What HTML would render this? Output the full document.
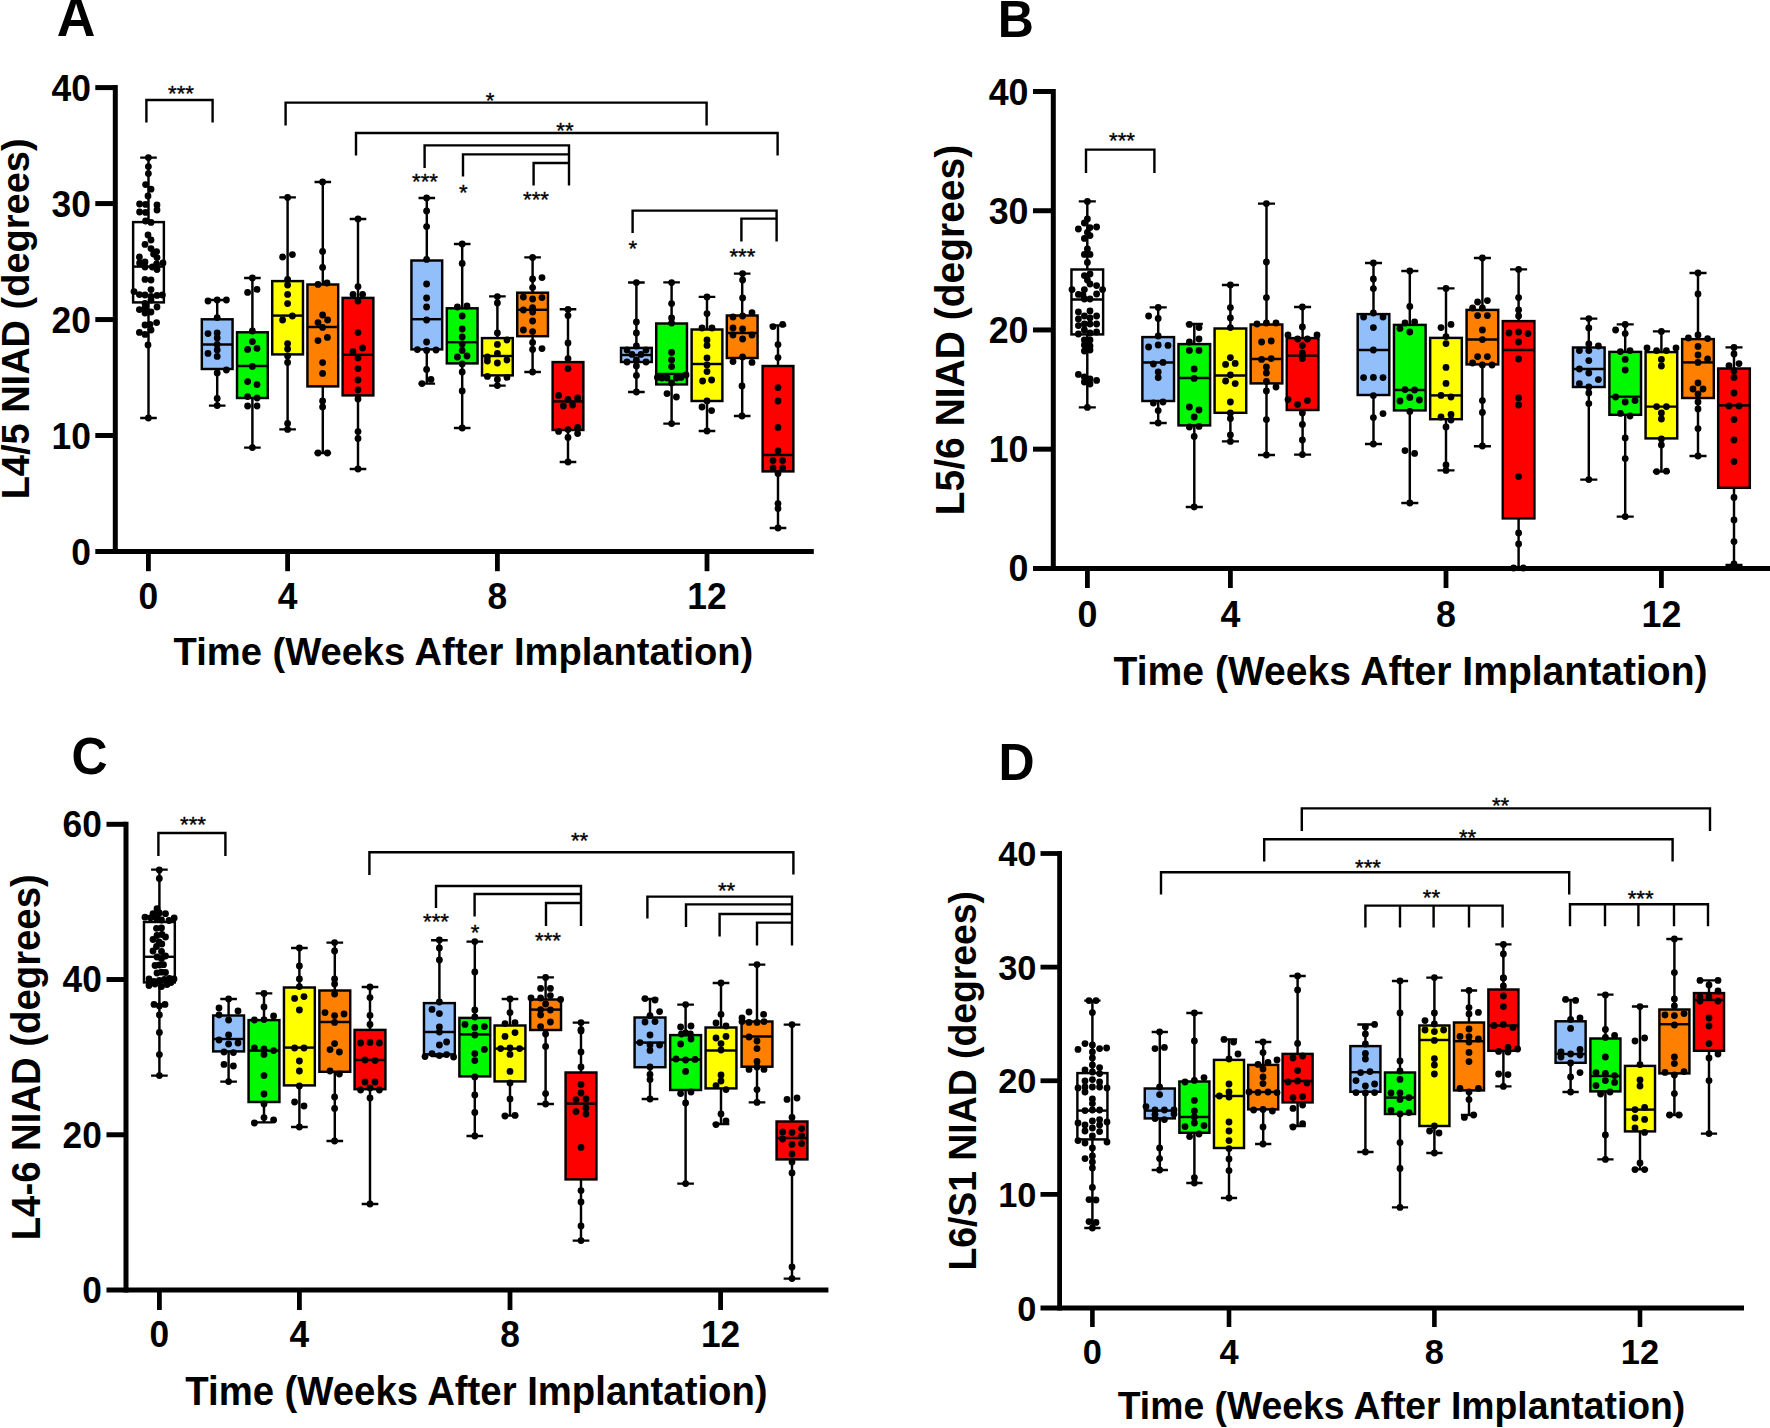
<!DOCTYPE html>
<html lang="en"><head><meta charset="utf-8"><title>NIAD box plots</title>
<style>html,body{margin:0;padding:0;background:#fff}svg{display:block}</style></head><body>
<svg width="1770" height="1428" viewBox="0 0 1770 1428">
<rect width="1770" height="1428" fill="#fff"/>
<g id="panelA">
<text transform="translate(56.7,35.6) scale(1,1.04)" text-anchor="start" font-family="'Liberation Sans', Arial, sans-serif" font-weight="bold" font-size="53.5">A</text>
<g stroke="#000" fill="none" stroke-linecap="butt">
<line x1="115.3" y1="85" x2="115.3" y2="554" stroke-width="5.0"/>
<line x1="95.3" y1="551.5" x2="813.8" y2="551.5" stroke-width="5.0"/>
<line x1="95.3" y1="87.6" x2="115.3" y2="87.6" stroke-width="5.0"/>
<line x1="95.3" y1="203.57" x2="115.3" y2="203.57" stroke-width="5.0"/>
<line x1="95.3" y1="319.55" x2="115.3" y2="319.55" stroke-width="5.0"/>
<line x1="95.3" y1="435.52" x2="115.3" y2="435.52" stroke-width="5.0"/>
<line x1="148.4" y1="551.5" x2="148.4" y2="571.2" stroke-width="4.8"/>
<line x1="287.6" y1="551.5" x2="287.6" y2="571.2" stroke-width="4.8"/>
<line x1="497.4" y1="551.5" x2="497.4" y2="571.2" stroke-width="4.8"/>
<line x1="707" y1="551.5" x2="707" y2="571.2" stroke-width="4.8"/>
</g>
<text transform="translate(91,101.19) scale(1,1.04)" text-anchor="end" font-family="'Liberation Sans', Arial, sans-serif" font-weight="bold" font-size="35.4">40</text>
<text transform="translate(91,217.16) scale(1,1.04)" text-anchor="end" font-family="'Liberation Sans', Arial, sans-serif" font-weight="bold" font-size="35.4">30</text>
<text transform="translate(91,333.14) scale(1,1.04)" text-anchor="end" font-family="'Liberation Sans', Arial, sans-serif" font-weight="bold" font-size="35.4">20</text>
<text transform="translate(91,449.11) scale(1,1.04)" text-anchor="end" font-family="'Liberation Sans', Arial, sans-serif" font-weight="bold" font-size="35.4">10</text>
<text transform="translate(91,565.09) scale(1,1.04)" text-anchor="end" font-family="'Liberation Sans', Arial, sans-serif" font-weight="bold" font-size="35.4">0</text>
<text transform="translate(148.4,608.6) scale(1,1.04)" text-anchor="middle" font-family="'Liberation Sans', Arial, sans-serif" font-weight="bold" font-size="35.4">0</text>
<text transform="translate(287.6,608.6) scale(1,1.04)" text-anchor="middle" font-family="'Liberation Sans', Arial, sans-serif" font-weight="bold" font-size="35.4">4</text>
<text transform="translate(497.4,608.6) scale(1,1.04)" text-anchor="middle" font-family="'Liberation Sans', Arial, sans-serif" font-weight="bold" font-size="35.4">8</text>
<text transform="translate(707,608.6) scale(1,1.04)" text-anchor="middle" font-family="'Liberation Sans', Arial, sans-serif" font-weight="bold" font-size="35.4">12</text>
<text transform="translate(173.6,665) scale(1,1.04)" text-anchor="start" font-family="'Liberation Sans', Arial, sans-serif" font-weight="bold" font-size="38.13">Time (Weeks After Implantation)</text>
<text transform="translate(28.9,318.9) rotate(-90) scale(1,1.04)" text-anchor="middle" font-family="'Liberation Sans', Arial, sans-serif" font-weight="bold" font-size="38.0">L4/5 NIAD (degrees)</text>
<path d="M148.5 157.6V418M217.2 300V405.6M252.4 278V447.6M287.6 197.4V429.4M322.8 182V453M358 219V469M426.8 198V383.6M462.2 244V428M497.4 296.4V385.6M532.6 257.4V372M568 309.2V462M636.4 282.5V392M671.6 282.4V423.6M707 296.8V431M742.2 273.6V416M778 325.4V528" stroke="#000" stroke-width="2.45" fill="none"/>
<path d="M140.2 157.6H156.8M140.2 418H156.8M208.9 300H225.5M208.9 405.6H225.5M244.1 278H260.7M244.1 447.6H260.7M279.3 197.4H295.9M279.3 429.4H295.9M314.5 182H331.1M314.5 453H331.1M349.7 219H366.3M349.7 469H366.3M418.5 198H435.1M418.5 383.6H435.1M453.9 244H470.5M453.9 428H470.5M489.1 296.4H505.7M489.1 385.6H505.7M524.3 257.4H540.9M524.3 372H540.9M559.7 309.2H576.3M559.7 462H576.3M628.1 282.5H644.7M628.1 392H644.7M663.3 282.4H679.9M663.3 423.6H679.9M698.7 296.8H715.3M698.7 431H715.3M733.9 273.6H750.5M733.9 416H750.5M769.7 325.4H786.3M769.7 528H786.3" stroke="#000" stroke-width="2.35" fill="none"/>
<g stroke="#000" stroke-width="2.45" fill="none"><rect x="133.12" y="222.1" width="30.75" height="80.3" fill="#ffffff"/><path d="M133.12 266.6H163.88"/><rect x="201.82" y="319.3" width="30.75" height="49.7" fill="#92bffa"/><path d="M201.82 344.5H232.57"/><rect x="237.03" y="332.3" width="30.75" height="65.7" fill="#00f800"/><path d="M237.03 366H267.78"/><rect x="272.23" y="281.1" width="30.75" height="73.3" fill="#ffff00"/><path d="M272.23 315.6H302.98"/><rect x="307.43" y="284.5" width="30.75" height="101.9" fill="#ff8000"/><path d="M307.43 327H338.18"/><rect x="342.62" y="297.9" width="30.75" height="97.5" fill="#fd0000"/><path d="M342.62 354.8H373.38"/><rect x="411.43" y="260.5" width="30.75" height="88.9" fill="#92bffa"/><path d="M411.43 319.2H442.18"/><rect x="446.82" y="308.3" width="30.75" height="55.1" fill="#00f800"/><path d="M446.82 342.2H477.57"/><rect x="482.02" y="338.1" width="30.75" height="37.3" fill="#ffff00"/><path d="M482.02 356H512.77"/><rect x="517.23" y="292.7" width="30.75" height="43.5" fill="#ff8000"/><path d="M517.23 309.8H547.98"/><rect x="552.62" y="362.1" width="30.75" height="67.9" fill="#fd0000"/><path d="M552.62 401.4H583.38"/><rect x="621.02" y="347.9" width="30.75" height="14.1" fill="#92bffa"/><path d="M621.02 355H651.77"/><rect x="656.23" y="323.5" width="30.75" height="60.9" fill="#00f800"/><path d="M656.23 374H686.98"/><rect x="691.62" y="329.5" width="30.75" height="71.5" fill="#ffff00"/><path d="M691.62 364H722.38"/><rect x="726.83" y="315.5" width="30.75" height="42.5" fill="#ff8000"/><path d="M726.83 333H757.58"/><rect x="762.62" y="366" width="30.75" height="105.4" fill="#fd0000"/><path d="M762.62 455H793.38"/></g>
<g fill="#000"><circle cx="148.4" cy="157.6" r="3.4"/><circle cx="148.4" cy="166.6" r="3.4"/><circle cx="148.4" cy="173.6" r="3.4"/><circle cx="145.6" cy="184.6" r="3.4"/><circle cx="151" cy="189.2" r="3.4"/><circle cx="148" cy="196" r="3.4"/><circle cx="139.6" cy="204" r="3.4"/><circle cx="145.6" cy="204.4" r="3.4"/><circle cx="157" cy="205" r="3.4"/><circle cx="157" cy="210" r="3.4"/><circle cx="139.6" cy="212" r="3.4"/><circle cx="145.6" cy="212.4" r="3.4"/><circle cx="145.6" cy="221" r="3.4"/><circle cx="151" cy="222.4" r="3.4"/><circle cx="148" cy="235" r="3.4"/><circle cx="151" cy="240" r="3.4"/><circle cx="145" cy="244.4" r="3.4"/><circle cx="151" cy="248.6" r="3.4"/><circle cx="156.6" cy="251.6" r="3.4"/><circle cx="139.4" cy="257" r="3.4"/><circle cx="153.6" cy="254" r="3.4"/><circle cx="157" cy="257.6" r="3.4"/><circle cx="145" cy="262" r="3.4"/><circle cx="139.6" cy="263" r="3.4"/><circle cx="163" cy="263" r="3.4"/><circle cx="156.6" cy="264" r="3.4"/><circle cx="145" cy="267" r="3.4"/><circle cx="152.4" cy="267" r="3.4"/><circle cx="157" cy="269.6" r="3.4"/><circle cx="145" cy="279.4" r="3.4"/><circle cx="151" cy="280" r="3.4"/><circle cx="151" cy="289.6" r="3.4"/><circle cx="134" cy="291.6" r="3.4"/><circle cx="139.4" cy="294.6" r="3.4"/><circle cx="145" cy="295" r="3.4"/><circle cx="157" cy="295.4" r="3.4"/><circle cx="162.4" cy="295" r="3.4"/><circle cx="151" cy="296.4" r="3.4"/><circle cx="145" cy="303.4" r="3.4"/><circle cx="151" cy="300" r="3.4"/><circle cx="157" cy="307" r="3.4"/><circle cx="145" cy="308" r="3.4"/><circle cx="139.4" cy="309.6" r="3.4"/><circle cx="145" cy="313" r="3.4"/><circle cx="151" cy="312" r="3.4"/><circle cx="156.6" cy="322.6" r="3.4"/><circle cx="145" cy="325" r="3.4"/><circle cx="150" cy="324.4" r="3.4"/><circle cx="151" cy="330" r="3.4"/><circle cx="139.4" cy="332.4" r="3.4"/><circle cx="145" cy="334.4" r="3.4"/><circle cx="148" cy="345" r="3.4"/><circle cx="148.4" cy="418" r="3.4"/><circle cx="208" cy="301" r="3.4"/><circle cx="226.4" cy="300" r="3.4"/><circle cx="217.2" cy="300" r="3.4"/><circle cx="217.2" cy="317.6" r="3.4"/><circle cx="208" cy="333.6" r="3.4"/><circle cx="217.2" cy="333" r="3.4"/><circle cx="217.2" cy="338" r="3.4"/><circle cx="217.2" cy="344.4" r="3.4"/><circle cx="217.2" cy="350" r="3.4"/><circle cx="208" cy="353.4" r="3.4"/><circle cx="217.2" cy="356.4" r="3.4"/><circle cx="226.4" cy="370" r="3.4"/><circle cx="217.2" cy="373" r="3.4"/><circle cx="217.2" cy="398.4" r="3.4"/><circle cx="217.2" cy="405.6" r="3.4"/><circle cx="252.4" cy="278" r="3.4"/><circle cx="247.6" cy="292.4" r="3.4"/><circle cx="257" cy="289.4" r="3.4"/><circle cx="252.4" cy="331" r="3.4"/><circle cx="252.4" cy="341.6" r="3.4"/><circle cx="247.6" cy="349.4" r="3.4"/><circle cx="257" cy="348.4" r="3.4"/><circle cx="252.4" cy="366.4" r="3.4"/><circle cx="247.6" cy="381.6" r="3.4"/><circle cx="257" cy="384.6" r="3.4"/><circle cx="247.6" cy="396.6" r="3.4"/><circle cx="257" cy="398" r="3.4"/><circle cx="247.6" cy="406" r="3.4"/><circle cx="257" cy="406" r="3.4"/><circle cx="252.4" cy="447.6" r="3.4"/><circle cx="287.6" cy="197.4" r="3.4"/><circle cx="282.6" cy="257" r="3.4"/><circle cx="292.4" cy="254.6" r="3.4"/><circle cx="287.6" cy="279.4" r="3.4"/><circle cx="287.6" cy="285" r="3.4"/><circle cx="287.6" cy="294.4" r="3.4"/><circle cx="287.6" cy="303.6" r="3.4"/><circle cx="292.4" cy="316" r="3.4"/><circle cx="282.6" cy="320" r="3.4"/><circle cx="287.6" cy="343.6" r="3.4"/><circle cx="287.6" cy="349" r="3.4"/><circle cx="287.6" cy="356" r="3.4"/><circle cx="287.6" cy="362.4" r="3.4"/><circle cx="287.6" cy="423.4" r="3.4"/><circle cx="287.6" cy="429.4" r="3.4"/><circle cx="322.6" cy="182" r="3.4"/><circle cx="322.6" cy="251.4" r="3.4"/><circle cx="322.6" cy="267.4" r="3.4"/><circle cx="318" cy="284.4" r="3.4"/><circle cx="327" cy="283" r="3.4"/><circle cx="322.6" cy="315" r="3.4"/><circle cx="327.6" cy="320" r="3.4"/><circle cx="318" cy="322.6" r="3.4"/><circle cx="322.6" cy="327.4" r="3.4"/><circle cx="327.4" cy="337.4" r="3.4"/><circle cx="318" cy="340.6" r="3.4"/><circle cx="322.6" cy="362.6" r="3.4"/><circle cx="322.6" cy="373.4" r="3.4"/><circle cx="322.6" cy="401" r="3.4"/><circle cx="322.6" cy="407" r="3.4"/><circle cx="318" cy="453" r="3.4"/><circle cx="327.4" cy="453" r="3.4"/><circle cx="358" cy="219" r="3.4"/><circle cx="358" cy="286.6" r="3.4"/><circle cx="353" cy="294.4" r="3.4"/><circle cx="362.6" cy="294.4" r="3.4"/><circle cx="358" cy="301" r="3.4"/><circle cx="358" cy="332.6" r="3.4"/><circle cx="362.6" cy="348" r="3.4"/><circle cx="353" cy="351.6" r="3.4"/><circle cx="358" cy="358" r="3.4"/><circle cx="358" cy="368.6" r="3.4"/><circle cx="358" cy="380" r="3.4"/><circle cx="358" cy="390" r="3.4"/><circle cx="358" cy="399" r="3.4"/><circle cx="358" cy="431.6" r="3.4"/><circle cx="358" cy="438.4" r="3.4"/><circle cx="358" cy="469" r="3.4"/><circle cx="426.6" cy="198" r="3.4"/><circle cx="426.6" cy="211" r="3.4"/><circle cx="426.6" cy="226.6" r="3.4"/><circle cx="426.6" cy="259.4" r="3.4"/><circle cx="426.6" cy="284" r="3.4"/><circle cx="426.6" cy="298" r="3.4"/><circle cx="426.6" cy="307" r="3.4"/><circle cx="426.6" cy="320" r="3.4"/><circle cx="426.6" cy="342" r="3.4"/><circle cx="417.4" cy="349.6" r="3.4"/><circle cx="426.6" cy="350.4" r="3.4"/><circle cx="436" cy="350" r="3.4"/><circle cx="426.6" cy="369.4" r="3.4"/><circle cx="422" cy="383.6" r="3.4"/><circle cx="431" cy="379.4" r="3.4"/><circle cx="462.2" cy="244" r="3.4"/><circle cx="462.2" cy="263.4" r="3.4"/><circle cx="457.4" cy="307" r="3.4"/><circle cx="467" cy="306" r="3.4"/><circle cx="462.2" cy="316" r="3.4"/><circle cx="462.2" cy="329" r="3.4"/><circle cx="462.2" cy="337" r="3.4"/><circle cx="462.2" cy="344" r="3.4"/><circle cx="462.2" cy="350.4" r="3.4"/><circle cx="457.4" cy="357" r="3.4"/><circle cx="467" cy="356" r="3.4"/><circle cx="462.2" cy="364" r="3.4"/><circle cx="462.2" cy="372" r="3.4"/><circle cx="462.2" cy="391" r="3.4"/><circle cx="462.2" cy="428" r="3.4"/><circle cx="497.4" cy="296.6" r="3.4"/><circle cx="497.4" cy="303" r="3.4"/><circle cx="497.4" cy="333" r="3.4"/><circle cx="507" cy="340" r="3.4"/><circle cx="497.4" cy="344.4" r="3.4"/><circle cx="497.4" cy="353.4" r="3.4"/><circle cx="487.4" cy="357" r="3.4"/><circle cx="487.4" cy="361" r="3.4"/><circle cx="507" cy="360" r="3.4"/><circle cx="497.4" cy="363" r="3.4"/><circle cx="487.4" cy="376.4" r="3.4"/><circle cx="507" cy="377.4" r="3.4"/><circle cx="497.4" cy="379.4" r="3.4"/><circle cx="497.4" cy="385.6" r="3.4"/><circle cx="532.6" cy="257.4" r="3.4"/><circle cx="532.6" cy="279" r="3.4"/><circle cx="542" cy="277.6" r="3.4"/><circle cx="532.6" cy="287.6" r="3.4"/><circle cx="523.4" cy="297" r="3.4"/><circle cx="532.6" cy="299" r="3.4"/><circle cx="542" cy="297.6" r="3.4"/><circle cx="523.4" cy="310" r="3.4"/><circle cx="532.6" cy="307.6" r="3.4"/><circle cx="532.6" cy="312" r="3.4"/><circle cx="532.6" cy="321" r="3.4"/><circle cx="523.4" cy="330" r="3.4"/><circle cx="532.6" cy="331.6" r="3.4"/><circle cx="532.6" cy="342.4" r="3.4"/><circle cx="532.6" cy="349.4" r="3.4"/><circle cx="542" cy="348.6" r="3.4"/><circle cx="532.6" cy="372" r="3.4"/><circle cx="568" cy="309.4" r="3.4"/><circle cx="568" cy="315.6" r="3.4"/><circle cx="568" cy="343" r="3.4"/><circle cx="568" cy="358.6" r="3.4"/><circle cx="568" cy="368.6" r="3.4"/><circle cx="558.6" cy="395.4" r="3.4"/><circle cx="568" cy="399.4" r="3.4"/><circle cx="577.6" cy="398" r="3.4"/><circle cx="563.4" cy="406" r="3.4"/><circle cx="572.6" cy="405" r="3.4"/><circle cx="577.6" cy="427.4" r="3.4"/><circle cx="568" cy="429.6" r="3.4"/><circle cx="558.6" cy="431.4" r="3.4"/><circle cx="577.6" cy="433.6" r="3.4"/><circle cx="568" cy="437.4" r="3.4"/><circle cx="568" cy="462" r="3.4"/><circle cx="636.4" cy="282.6" r="3.4"/><circle cx="636.4" cy="322" r="3.4"/><circle cx="636.4" cy="333" r="3.4"/><circle cx="636.4" cy="346" r="3.4"/><circle cx="627" cy="350" r="3.4"/><circle cx="646" cy="350" r="3.4"/><circle cx="632" cy="354.4" r="3.4"/><circle cx="641" cy="354.4" r="3.4"/><circle cx="627" cy="362" r="3.4"/><circle cx="646" cy="362" r="3.4"/><circle cx="636.4" cy="360" r="3.4"/><circle cx="636.4" cy="366" r="3.4"/><circle cx="636.4" cy="375.4" r="3.4"/><circle cx="636.4" cy="392" r="3.4"/><circle cx="671.6" cy="282.6" r="3.4"/><circle cx="671.6" cy="303.6" r="3.4"/><circle cx="671.6" cy="318" r="3.4"/><circle cx="671.6" cy="323" r="3.4"/><circle cx="671.6" cy="352.4" r="3.4"/><circle cx="671.6" cy="360" r="3.4"/><circle cx="671.6" cy="366.6" r="3.4"/><circle cx="657.4" cy="377.4" r="3.4"/><circle cx="662" cy="378" r="3.4"/><circle cx="667" cy="378" r="3.4"/><circle cx="676.4" cy="378" r="3.4"/><circle cx="681" cy="377.4" r="3.4"/><circle cx="686" cy="375" r="3.4"/><circle cx="671.6" cy="383" r="3.4"/><circle cx="667" cy="393.6" r="3.4"/><circle cx="676.4" cy="397" r="3.4"/><circle cx="671.6" cy="423.6" r="3.4"/><circle cx="707" cy="297" r="3.4"/><circle cx="707" cy="313.6" r="3.4"/><circle cx="702" cy="328" r="3.4"/><circle cx="712" cy="328" r="3.4"/><circle cx="707" cy="340" r="3.4"/><circle cx="707" cy="345.4" r="3.4"/><circle cx="707" cy="358" r="3.4"/><circle cx="707" cy="365" r="3.4"/><circle cx="707" cy="371.6" r="3.4"/><circle cx="702.6" cy="381" r="3.4"/><circle cx="711.6" cy="380" r="3.4"/><circle cx="707" cy="401" r="3.4"/><circle cx="702" cy="407" r="3.4"/><circle cx="711.6" cy="410.6" r="3.4"/><circle cx="707" cy="431" r="3.4"/><circle cx="742.6" cy="273.6" r="3.4"/><circle cx="742.6" cy="280" r="3.4"/><circle cx="742.6" cy="298" r="3.4"/><circle cx="733" cy="317" r="3.4"/><circle cx="742.6" cy="316" r="3.4"/><circle cx="752" cy="312.6" r="3.4"/><circle cx="733" cy="328" r="3.4"/><circle cx="742.6" cy="329" r="3.4"/><circle cx="733" cy="335" r="3.4"/><circle cx="742.6" cy="339" r="3.4"/><circle cx="752" cy="335" r="3.4"/><circle cx="742.6" cy="357" r="3.4"/><circle cx="733" cy="361.6" r="3.4"/><circle cx="752" cy="362.4" r="3.4"/><circle cx="742" cy="386" r="3.4"/><circle cx="742" cy="416" r="3.4"/><circle cx="773" cy="326.6" r="3.4"/><circle cx="782.6" cy="324.4" r="3.4"/><circle cx="778" cy="344.6" r="3.4"/><circle cx="778" cy="357.6" r="3.4"/><circle cx="778" cy="387.6" r="3.4"/><circle cx="778" cy="401" r="3.4"/><circle cx="778" cy="427.4" r="3.4"/><circle cx="778" cy="451" r="3.4"/><circle cx="773" cy="460.6" r="3.4"/><circle cx="782.6" cy="460.6" r="3.4"/><circle cx="773" cy="468" r="3.4"/><circle cx="782.6" cy="468" r="3.4"/><circle cx="778" cy="473.6" r="3.4"/><circle cx="778" cy="503.6" r="3.4"/><circle cx="778" cy="508.6" r="3.4"/><circle cx="778" cy="528" r="3.4"/></g>
<path d="M146.4 122.6L146.4 100L212.6 100L212.6 122.6M285.6 125.6L285.6 102.6L706.6 102.6L706.6 125.6M356 155.6L356 133L777.6 133L777.6 155.6M424.6 168L424.6 145.4L569 145.4L569 185.6M463 176.6L463 154.4L569 154.4M533.6 185.6L533.6 163L569 163M632.6 233L632.6 210.6L776.6 210.6L776.6 241.6M741.4 241.6L741.4 218.6L776.6 218.6" stroke="#000" stroke-width="2.4" fill="none" stroke-linejoin="miter"/>
<g font-family="'Liberation Sans', Arial, sans-serif" font-size="22.2" text-anchor="middle" fill="#000" stroke="#000" stroke-width="0.35">
<text x="181" y="100.99">***</text>
<text x="490" y="107.89">*</text>
<text x="565" y="138.29">**</text>
<text x="425" y="189.49">***</text>
<text x="463.4" y="200.09">*</text>
<text x="536" y="207.49">***</text>
<text x="632.8" y="256.49">*</text>
<text x="742.4" y="264.49">***</text>
</g>
</g>
<g id="panelB">
<text transform="translate(997.7,36.6) scale(1,1.04)" text-anchor="start" font-family="'Liberation Sans', Arial, sans-serif" font-weight="bold" font-size="50">B</text>
<g stroke="#000" fill="none" stroke-linecap="butt">
<line x1="1053.3" y1="89" x2="1053.3" y2="570.9" stroke-width="5.0"/>
<line x1="1033" y1="568.4" x2="1772" y2="568.4" stroke-width="5.0"/>
<line x1="1033" y1="91.5" x2="1053.3" y2="91.5" stroke-width="5.0"/>
<line x1="1033" y1="210.73" x2="1053.3" y2="210.73" stroke-width="5.0"/>
<line x1="1033" y1="329.95" x2="1053.3" y2="329.95" stroke-width="5.0"/>
<line x1="1033" y1="449.17" x2="1053.3" y2="449.17" stroke-width="5.0"/>
<line x1="1087.4" y1="568.4" x2="1087.4" y2="588" stroke-width="4.8"/>
<line x1="1230.4" y1="568.4" x2="1230.4" y2="588" stroke-width="4.8"/>
<line x1="1446" y1="568.4" x2="1446" y2="588" stroke-width="4.8"/>
<line x1="1661.4" y1="568.4" x2="1661.4" y2="588" stroke-width="4.8"/>
</g>
<text transform="translate(1028.5,104.53) scale(1,1.04)" text-anchor="end" font-family="'Liberation Sans', Arial, sans-serif" font-weight="bold" font-size="35.8">40</text>
<text transform="translate(1028.5,223.76) scale(1,1.04)" text-anchor="end" font-family="'Liberation Sans', Arial, sans-serif" font-weight="bold" font-size="35.8">30</text>
<text transform="translate(1028.5,342.98) scale(1,1.04)" text-anchor="end" font-family="'Liberation Sans', Arial, sans-serif" font-weight="bold" font-size="35.8">20</text>
<text transform="translate(1028.5,462.21) scale(1,1.04)" text-anchor="end" font-family="'Liberation Sans', Arial, sans-serif" font-weight="bold" font-size="35.8">10</text>
<text transform="translate(1028.5,581.43) scale(1,1.04)" text-anchor="end" font-family="'Liberation Sans', Arial, sans-serif" font-weight="bold" font-size="35.8">0</text>
<text transform="translate(1087.4,626.8) scale(1,1.04)" text-anchor="middle" font-family="'Liberation Sans', Arial, sans-serif" font-weight="bold" font-size="35.8">0</text>
<text transform="translate(1230.4,626.8) scale(1,1.04)" text-anchor="middle" font-family="'Liberation Sans', Arial, sans-serif" font-weight="bold" font-size="35.8">4</text>
<text transform="translate(1446,626.8) scale(1,1.04)" text-anchor="middle" font-family="'Liberation Sans', Arial, sans-serif" font-weight="bold" font-size="35.8">8</text>
<text transform="translate(1661.4,626.8) scale(1,1.04)" text-anchor="middle" font-family="'Liberation Sans', Arial, sans-serif" font-weight="bold" font-size="35.8">12</text>
<text transform="translate(1113.6,685) scale(1,1.04)" text-anchor="start" font-family="'Liberation Sans', Arial, sans-serif" font-weight="bold" font-size="39.07">Time (Weeks After Implantation)</text>
<text transform="translate(964,330) rotate(-90) scale(1,1.04)" text-anchor="middle" font-family="'Liberation Sans', Arial, sans-serif" font-weight="bold" font-size="39.0">L5/6 NIAD (degrees)</text>
<path d="M1087.3 201.4V407.4M1158.2 307.4V423M1194.3 324V507M1230.4 285V441.4M1266.5 203.6V455M1302.6 307V454.6M1373.5 263V444M1409.8 271V503M1446 288.4V470.4M1482.4 258V446.2M1518.6 269.4V568M1588.8 318.6V479.6M1625.2 324.4V516.6M1661.4 331.4V471.6M1698 273V456M1734 347.4V565" stroke="#000" stroke-width="2.45" fill="none"/>
<path d="M1078.77 201.4H1095.83M1078.77 407.4H1095.83M1149.67 307.4H1166.73M1149.67 423H1166.73M1185.77 324H1202.83M1185.77 507H1202.83M1221.88 285H1238.93M1221.88 441.4H1238.93M1257.97 203.6H1275.03M1257.97 455H1275.03M1294.07 307H1311.12M1294.07 454.6H1311.12M1364.97 263H1382.03M1364.97 444H1382.03M1401.27 271H1418.33M1401.27 503H1418.33M1437.47 288.4H1454.53M1437.47 470.4H1454.53M1473.88 258H1490.93M1473.88 446.2H1490.93M1510.07 269.4H1527.12M1510.07 568H1527.12M1580.27 318.6H1597.33M1580.27 479.6H1597.33M1616.67 324.4H1633.73M1616.67 516.6H1633.73M1652.88 331.4H1669.93M1652.88 471.6H1669.93M1689.47 273H1706.53M1689.47 456H1706.53M1725.47 347.4H1742.53M1725.47 565H1742.53" stroke="#000" stroke-width="2.35" fill="none"/>
<g stroke="#000" stroke-width="2.45" fill="none"><rect x="1071.47" y="269.5" width="31.65" height="64.9" fill="#ffffff"/><path d="M1071.47 299.4H1103.12"/><rect x="1142.38" y="337.1" width="31.65" height="63.9" fill="#92bffa"/><path d="M1142.38 362.4H1174.03"/><rect x="1178.47" y="344.1" width="31.65" height="81.3" fill="#00f800"/><path d="M1178.47 378H1210.12"/><rect x="1214.58" y="328.5" width="31.65" height="84.3" fill="#ffff00"/><path d="M1214.58 375.4H1246.23"/><rect x="1250.67" y="324.5" width="31.65" height="58.9" fill="#ff8000"/><path d="M1250.67 359H1282.33"/><rect x="1286.77" y="338.1" width="31.65" height="71.9" fill="#fd0000"/><path d="M1286.77 355.6H1318.42"/><rect x="1357.67" y="314.1" width="31.65" height="80.9" fill="#92bffa"/><path d="M1357.67 350H1389.33"/><rect x="1393.97" y="324.9" width="31.65" height="85.5" fill="#00f800"/><path d="M1393.97 390H1425.62"/><rect x="1430.17" y="337.9" width="31.65" height="81.3" fill="#ffff00"/><path d="M1430.17 395.4H1461.83"/><rect x="1466.58" y="309.9" width="31.65" height="54.5" fill="#ff8000"/><path d="M1466.58 339.4H1498.23"/><rect x="1502.77" y="321.1" width="31.65" height="197.3" fill="#fd0000"/><path d="M1502.77 350H1534.42"/><rect x="1572.97" y="347.5" width="31.65" height="39.5" fill="#92bffa"/><path d="M1572.97 369H1604.62"/><rect x="1609.38" y="351.9" width="31.65" height="62.9" fill="#00f800"/><path d="M1609.38 396.6H1641.03"/><rect x="1645.58" y="352.1" width="31.65" height="86.3" fill="#ffff00"/><path d="M1645.58 406.6H1677.23"/><rect x="1682.17" y="339.1" width="31.65" height="58.9" fill="#ff8000"/><path d="M1682.17 362.4H1713.83"/><rect x="1718.17" y="368.5" width="31.65" height="119.3" fill="#fd0000"/><path d="M1718.17 405.4H1749.83"/></g>
<g fill="#000"><circle cx="1087.4" cy="201.4" r="3.4"/><circle cx="1087.4" cy="219" r="3.4"/><circle cx="1084.4" cy="223" r="3.4"/><circle cx="1078.4" cy="229" r="3.4"/><circle cx="1090" cy="227.6" r="3.4"/><circle cx="1096.6" cy="227" r="3.4"/><circle cx="1087.4" cy="232.4" r="3.4"/><circle cx="1084.4" cy="238.4" r="3.4"/><circle cx="1090" cy="235.6" r="3.4"/><circle cx="1087.4" cy="249" r="3.4"/><circle cx="1084.4" cy="254.4" r="3.4"/><circle cx="1090" cy="254.4" r="3.4"/><circle cx="1087.4" cy="262.4" r="3.4"/><circle cx="1090" cy="274" r="3.4"/><circle cx="1084.4" cy="275.6" r="3.4"/><circle cx="1087.4" cy="280" r="3.4"/><circle cx="1090" cy="284" r="3.4"/><circle cx="1096.6" cy="285.6" r="3.4"/><circle cx="1072" cy="289.6" r="3.4"/><circle cx="1084.4" cy="289.6" r="3.4"/><circle cx="1102.6" cy="289.6" r="3.4"/><circle cx="1078.4" cy="294.4" r="3.4"/><circle cx="1083" cy="295" r="3.4"/><circle cx="1096.6" cy="294" r="3.4"/><circle cx="1084.4" cy="299" r="3.4"/><circle cx="1090" cy="299" r="3.4"/><circle cx="1078.4" cy="312" r="3.4"/><circle cx="1090" cy="311" r="3.4"/><circle cx="1084.4" cy="316" r="3.4"/><circle cx="1096.6" cy="316" r="3.4"/><circle cx="1078.4" cy="319" r="3.4"/><circle cx="1090" cy="318" r="3.4"/><circle cx="1084.4" cy="324" r="3.4"/><circle cx="1096.6" cy="324" r="3.4"/><circle cx="1078.4" cy="325.6" r="3.4"/><circle cx="1090" cy="324" r="3.4"/><circle cx="1084.4" cy="330" r="3.4"/><circle cx="1096.6" cy="332" r="3.4"/><circle cx="1078.4" cy="334" r="3.4"/><circle cx="1090" cy="333" r="3.4"/><circle cx="1084.4" cy="340" r="3.4"/><circle cx="1090" cy="340" r="3.4"/><circle cx="1084.4" cy="345" r="3.4"/><circle cx="1090" cy="346" r="3.4"/><circle cx="1084.4" cy="351" r="3.4"/><circle cx="1090" cy="350" r="3.4"/><circle cx="1078.4" cy="374.4" r="3.4"/><circle cx="1084.4" cy="377" r="3.4"/><circle cx="1090" cy="379" r="3.4"/><circle cx="1096.6" cy="380.4" r="3.4"/><circle cx="1084.4" cy="382" r="3.4"/><circle cx="1090" cy="384" r="3.4"/><circle cx="1087.4" cy="407.4" r="3.4"/><circle cx="1158.2" cy="307.4" r="3.4"/><circle cx="1148.6" cy="316" r="3.4"/><circle cx="1158.2" cy="318.4" r="3.4"/><circle cx="1158.2" cy="336" r="3.4"/><circle cx="1148.6" cy="347" r="3.4"/><circle cx="1158.2" cy="345" r="3.4"/><circle cx="1168" cy="345.4" r="3.4"/><circle cx="1153.4" cy="364" r="3.4"/><circle cx="1163" cy="362.4" r="3.4"/><circle cx="1158.2" cy="372" r="3.4"/><circle cx="1158.2" cy="377.6" r="3.4"/><circle cx="1153.4" cy="403" r="3.4"/><circle cx="1163" cy="402" r="3.4"/><circle cx="1158.2" cy="410.6" r="3.4"/><circle cx="1158.2" cy="423" r="3.4"/><circle cx="1189.4" cy="324.4" r="3.4"/><circle cx="1199" cy="327.6" r="3.4"/><circle cx="1199" cy="339" r="3.4"/><circle cx="1189.4" cy="342" r="3.4"/><circle cx="1189.4" cy="350.4" r="3.4"/><circle cx="1199" cy="350.4" r="3.4"/><circle cx="1194.2" cy="369" r="3.4"/><circle cx="1194.2" cy="378.4" r="3.4"/><circle cx="1189.4" cy="407" r="3.4"/><circle cx="1199" cy="410" r="3.4"/><circle cx="1194.2" cy="417" r="3.4"/><circle cx="1189.4" cy="427" r="3.4"/><circle cx="1199" cy="426.4" r="3.4"/><circle cx="1194.2" cy="436.4" r="3.4"/><circle cx="1194.2" cy="507" r="3.4"/><circle cx="1230.4" cy="285" r="3.4"/><circle cx="1230.4" cy="307.6" r="3.4"/><circle cx="1230.4" cy="318" r="3.4"/><circle cx="1230.4" cy="327.6" r="3.4"/><circle cx="1230.4" cy="357.6" r="3.4"/><circle cx="1225.6" cy="364.4" r="3.4"/><circle cx="1235.2" cy="363.4" r="3.4"/><circle cx="1230.4" cy="375" r="3.4"/><circle cx="1225.6" cy="381" r="3.4"/><circle cx="1235.2" cy="383.6" r="3.4"/><circle cx="1230.4" cy="402" r="3.4"/><circle cx="1230.4" cy="413" r="3.4"/><circle cx="1230.4" cy="418.4" r="3.4"/><circle cx="1230.4" cy="435" r="3.4"/><circle cx="1230.4" cy="441.4" r="3.4"/><circle cx="1266.4" cy="203.6" r="3.4"/><circle cx="1266.4" cy="262" r="3.4"/><circle cx="1266.4" cy="297.6" r="3.4"/><circle cx="1257" cy="324" r="3.4"/><circle cx="1266.4" cy="323" r="3.4"/><circle cx="1276" cy="323" r="3.4"/><circle cx="1261.6" cy="342" r="3.4"/><circle cx="1271.2" cy="341" r="3.4"/><circle cx="1261.6" cy="359.4" r="3.4"/><circle cx="1271.2" cy="358.6" r="3.4"/><circle cx="1266.4" cy="367" r="3.4"/><circle cx="1266.4" cy="373" r="3.4"/><circle cx="1266.4" cy="381.4" r="3.4"/><circle cx="1276" cy="387" r="3.4"/><circle cx="1266.4" cy="391" r="3.4"/><circle cx="1266.4" cy="419.6" r="3.4"/><circle cx="1266.4" cy="455" r="3.4"/><circle cx="1302.4" cy="307" r="3.4"/><circle cx="1302.4" cy="327" r="3.4"/><circle cx="1288" cy="335" r="3.4"/><circle cx="1317" cy="335" r="3.4"/><circle cx="1297.6" cy="339" r="3.4"/><circle cx="1307.4" cy="339" r="3.4"/><circle cx="1302.4" cy="345.6" r="3.4"/><circle cx="1302.4" cy="353" r="3.4"/><circle cx="1302.4" cy="358.6" r="3.4"/><circle cx="1288" cy="399.6" r="3.4"/><circle cx="1307.4" cy="400.6" r="3.4"/><circle cx="1297.6" cy="404.4" r="3.4"/><circle cx="1302.4" cy="413" r="3.4"/><circle cx="1302.4" cy="424.4" r="3.4"/><circle cx="1302.4" cy="440" r="3.4"/><circle cx="1302.4" cy="454.6" r="3.4"/><circle cx="1373.4" cy="263" r="3.4"/><circle cx="1373.4" cy="279" r="3.4"/><circle cx="1373.4" cy="288.6" r="3.4"/><circle cx="1373.4" cy="313" r="3.4"/><circle cx="1363.6" cy="317" r="3.4"/><circle cx="1383" cy="317" r="3.4"/><circle cx="1373.4" cy="327.6" r="3.4"/><circle cx="1373.4" cy="350" r="3.4"/><circle cx="1363.6" cy="377.6" r="3.4"/><circle cx="1373.4" cy="377.4" r="3.4"/><circle cx="1383" cy="377.6" r="3.4"/><circle cx="1373.4" cy="395.6" r="3.4"/><circle cx="1383" cy="413.6" r="3.4"/><circle cx="1373.4" cy="417.6" r="3.4"/><circle cx="1373.4" cy="444" r="3.4"/><circle cx="1409.8" cy="271" r="3.4"/><circle cx="1409.8" cy="306.4" r="3.4"/><circle cx="1405" cy="323" r="3.4"/><circle cx="1414.6" cy="322" r="3.4"/><circle cx="1400" cy="328.4" r="3.4"/><circle cx="1409.8" cy="332" r="3.4"/><circle cx="1405" cy="389.6" r="3.4"/><circle cx="1414.6" cy="390" r="3.4"/><circle cx="1409.8" cy="397.4" r="3.4"/><circle cx="1400" cy="401" r="3.4"/><circle cx="1419.4" cy="400" r="3.4"/><circle cx="1409.8" cy="411.4" r="3.4"/><circle cx="1405" cy="450.6" r="3.4"/><circle cx="1414.6" cy="453.4" r="3.4"/><circle cx="1409.8" cy="503" r="3.4"/><circle cx="1446" cy="288.4" r="3.4"/><circle cx="1441" cy="327.6" r="3.4"/><circle cx="1451" cy="324.4" r="3.4"/><circle cx="1446" cy="336.6" r="3.4"/><circle cx="1446" cy="343.6" r="3.4"/><circle cx="1446" cy="367.4" r="3.4"/><circle cx="1446" cy="383.4" r="3.4"/><circle cx="1441" cy="395.4" r="3.4"/><circle cx="1451" cy="397" r="3.4"/><circle cx="1441" cy="417" r="3.4"/><circle cx="1451" cy="414.4" r="3.4"/><circle cx="1451" cy="420" r="3.4"/><circle cx="1446" cy="427" r="3.4"/><circle cx="1446" cy="465" r="3.4"/><circle cx="1446" cy="470.4" r="3.4"/><circle cx="1482.4" cy="258" r="3.4"/><circle cx="1477.6" cy="302" r="3.4"/><circle cx="1487.4" cy="300.6" r="3.4"/><circle cx="1472.6" cy="308" r="3.4"/><circle cx="1482.4" cy="308" r="3.4"/><circle cx="1477.6" cy="315.6" r="3.4"/><circle cx="1487.4" cy="315.6" r="3.4"/><circle cx="1482.4" cy="330" r="3.4"/><circle cx="1482.4" cy="339.6" r="3.4"/><circle cx="1477.6" cy="356.6" r="3.4"/><circle cx="1487.4" cy="356.6" r="3.4"/><circle cx="1472.6" cy="363" r="3.4"/><circle cx="1482.4" cy="365" r="3.4"/><circle cx="1492" cy="365" r="3.4"/><circle cx="1482.4" cy="400.6" r="3.4"/><circle cx="1482.4" cy="412.4" r="3.4"/><circle cx="1482.4" cy="446" r="3.4"/><circle cx="1518.6" cy="269.4" r="3.4"/><circle cx="1518.6" cy="297.6" r="3.4"/><circle cx="1518.6" cy="310" r="3.4"/><circle cx="1518.6" cy="316" r="3.4"/><circle cx="1509" cy="333" r="3.4"/><circle cx="1518.6" cy="332" r="3.4"/><circle cx="1528" cy="333.6" r="3.4"/><circle cx="1518.6" cy="342" r="3.4"/><circle cx="1518.6" cy="359" r="3.4"/><circle cx="1518.6" cy="398" r="3.4"/><circle cx="1518.6" cy="405" r="3.4"/><circle cx="1518.6" cy="476.6" r="3.4"/><circle cx="1518.6" cy="533" r="3.4"/><circle cx="1518.6" cy="544" r="3.4"/><circle cx="1513.6" cy="568" r="3.4"/><circle cx="1523.4" cy="568" r="3.4"/><circle cx="1588.8" cy="318.6" r="3.4"/><circle cx="1588.8" cy="328" r="3.4"/><circle cx="1588.8" cy="344" r="3.4"/><circle cx="1598.4" cy="346" r="3.4"/><circle cx="1579.4" cy="350.6" r="3.4"/><circle cx="1588.8" cy="350.6" r="3.4"/><circle cx="1588.8" cy="360.6" r="3.4"/><circle cx="1579.4" cy="369" r="3.4"/><circle cx="1588.8" cy="373" r="3.4"/><circle cx="1598.4" cy="379.6" r="3.4"/><circle cx="1579.4" cy="383.6" r="3.4"/><circle cx="1588.8" cy="387" r="3.4"/><circle cx="1588.8" cy="393" r="3.4"/><circle cx="1588.8" cy="403.6" r="3.4"/><circle cx="1588.8" cy="479.6" r="3.4"/><circle cx="1625.2" cy="324.4" r="3.4"/><circle cx="1615.6" cy="330" r="3.4"/><circle cx="1625.2" cy="333.6" r="3.4"/><circle cx="1620.4" cy="351.6" r="3.4"/><circle cx="1630" cy="350.6" r="3.4"/><circle cx="1625.2" cy="359.4" r="3.4"/><circle cx="1625.2" cy="370" r="3.4"/><circle cx="1615.6" cy="397" r="3.4"/><circle cx="1625.2" cy="402" r="3.4"/><circle cx="1635" cy="400.6" r="3.4"/><circle cx="1620.4" cy="413.4" r="3.4"/><circle cx="1630" cy="416" r="3.4"/><circle cx="1625.2" cy="438" r="3.4"/><circle cx="1625.2" cy="458.6" r="3.4"/><circle cx="1625.2" cy="516.6" r="3.4"/><circle cx="1661.4" cy="331.4" r="3.4"/><circle cx="1647" cy="348" r="3.4"/><circle cx="1656.6" cy="350.6" r="3.4"/><circle cx="1666.4" cy="350.6" r="3.4"/><circle cx="1676" cy="348" r="3.4"/><circle cx="1661.4" cy="359.4" r="3.4"/><circle cx="1661.4" cy="366" r="3.4"/><circle cx="1656.6" cy="406.6" r="3.4"/><circle cx="1666.4" cy="406.6" r="3.4"/><circle cx="1661.4" cy="413" r="3.4"/><circle cx="1661.4" cy="419" r="3.4"/><circle cx="1661.4" cy="439" r="3.4"/><circle cx="1661.4" cy="445" r="3.4"/><circle cx="1656.6" cy="471.6" r="3.4"/><circle cx="1666.4" cy="471.2" r="3.4"/><circle cx="1698" cy="273" r="3.4"/><circle cx="1698" cy="294" r="3.4"/><circle cx="1688.4" cy="338" r="3.4"/><circle cx="1698" cy="335" r="3.4"/><circle cx="1707.6" cy="338.6" r="3.4"/><circle cx="1698" cy="346.4" r="3.4"/><circle cx="1698" cy="355" r="3.4"/><circle cx="1707.6" cy="359" r="3.4"/><circle cx="1698" cy="362.4" r="3.4"/><circle cx="1698" cy="383" r="3.4"/><circle cx="1693" cy="389" r="3.4"/><circle cx="1703" cy="389" r="3.4"/><circle cx="1698" cy="394" r="3.4"/><circle cx="1698" cy="402" r="3.4"/><circle cx="1698" cy="409" r="3.4"/><circle cx="1698" cy="428.6" r="3.4"/><circle cx="1698" cy="456" r="3.4"/><circle cx="1734" cy="347.4" r="3.4"/><circle cx="1734" cy="354" r="3.4"/><circle cx="1729" cy="365.6" r="3.4"/><circle cx="1739" cy="363.6" r="3.4"/><circle cx="1734" cy="371" r="3.4"/><circle cx="1734" cy="377.4" r="3.4"/><circle cx="1734" cy="393" r="3.4"/><circle cx="1729" cy="406" r="3.4"/><circle cx="1739" cy="406" r="3.4"/><circle cx="1734" cy="419.6" r="3.4"/><circle cx="1734" cy="440" r="3.4"/><circle cx="1734" cy="461.6" r="3.4"/><circle cx="1734" cy="497.4" r="3.4"/><circle cx="1734" cy="520" r="3.4"/><circle cx="1734" cy="541.6" r="3.4"/><circle cx="1734" cy="564" r="3.4"/></g>
<path d="M1086 173L1086 149.6L1154.4 149.6L1154.4 173" stroke="#000" stroke-width="2.4" fill="none" stroke-linejoin="miter"/>
<g font-family="'Liberation Sans', Arial, sans-serif" font-size="22.2" text-anchor="middle" fill="#000" stroke="#000" stroke-width="0.35">
<text x="1122" y="148.49">***</text>
</g>
</g>
<g id="panelC">
<text transform="translate(71.5,773.5) scale(1,1.04)" text-anchor="start" font-family="'Liberation Sans', Arial, sans-serif" font-weight="bold" font-size="50">C</text>
<g stroke="#000" fill="none" stroke-linecap="butt">
<line x1="126" y1="821.8" x2="126" y2="1292.5" stroke-width="5.0"/>
<line x1="106.5" y1="1290" x2="828.4" y2="1290" stroke-width="5.0"/>
<line x1="106.5" y1="824.3" x2="126" y2="824.3" stroke-width="5.0"/>
<line x1="106.5" y1="979.53" x2="126" y2="979.53" stroke-width="5.0"/>
<line x1="106.5" y1="1134.77" x2="126" y2="1134.77" stroke-width="5.0"/>
<line x1="159.4" y1="1290" x2="159.4" y2="1310" stroke-width="4.8"/>
<line x1="299.4" y1="1290" x2="299.4" y2="1310" stroke-width="4.8"/>
<line x1="510" y1="1290" x2="510" y2="1310" stroke-width="4.8"/>
<line x1="720.6" y1="1290" x2="720.6" y2="1310" stroke-width="4.8"/>
</g>
<text transform="translate(101.8,837.15) scale(1,1.04)" text-anchor="end" font-family="'Liberation Sans', Arial, sans-serif" font-weight="bold" font-size="35.3">60</text>
<text transform="translate(101.8,992.38) scale(1,1.04)" text-anchor="end" font-family="'Liberation Sans', Arial, sans-serif" font-weight="bold" font-size="35.3">40</text>
<text transform="translate(101.8,1147.62) scale(1,1.04)" text-anchor="end" font-family="'Liberation Sans', Arial, sans-serif" font-weight="bold" font-size="35.3">20</text>
<text transform="translate(101.8,1302.85) scale(1,1.04)" text-anchor="end" font-family="'Liberation Sans', Arial, sans-serif" font-weight="bold" font-size="35.3">0</text>
<text transform="translate(159.4,1347.2) scale(1,1.04)" text-anchor="middle" font-family="'Liberation Sans', Arial, sans-serif" font-weight="bold" font-size="35.3">0</text>
<text transform="translate(299.4,1347.2) scale(1,1.04)" text-anchor="middle" font-family="'Liberation Sans', Arial, sans-serif" font-weight="bold" font-size="35.3">4</text>
<text transform="translate(510,1347.2) scale(1,1.04)" text-anchor="middle" font-family="'Liberation Sans', Arial, sans-serif" font-weight="bold" font-size="35.3">8</text>
<text transform="translate(720.6,1347.2) scale(1,1.04)" text-anchor="middle" font-family="'Liberation Sans', Arial, sans-serif" font-weight="bold" font-size="35.3">12</text>
<text transform="translate(185.3,1404.6) scale(1,1.04)" text-anchor="start" font-family="'Liberation Sans', Arial, sans-serif" font-weight="bold" font-size="38.3">Time (Weeks After Implantation)</text>
<text transform="translate(40,1057.3) rotate(-90) scale(1,1.04)" text-anchor="middle" font-family="'Liberation Sans', Arial, sans-serif" font-weight="bold" font-size="38.3">L4-6 NIAD (degrees)</text>
<path d="M159.4 869.6V1075.6M228.6 999V1081.6M264 993.4V1122.4M299.4 948V1127M334.8 942.6V1141M370 987V1204M439.4 940.2V1056M474.8 941.6V1136M510 999V1115.6M545.6 977.4V1104M581 1022.6V1240.6M650 999V1099M685.6 1004.6V1183.6M721 983V1124M757 964.6V1102.4M792 1024.6V1278.6" stroke="#000" stroke-width="2.45" fill="none"/>
<path d="M151.08 869.6H167.72M151.08 1075.6H167.72M220.28 999H236.92M220.28 1081.6H236.92M255.68 993.4H272.32M255.68 1122.4H272.32M291.07 948H307.72M291.07 1127H307.72M326.48 942.6H343.12M326.48 1141H343.12M361.68 987H378.32M361.68 1204H378.32M431.07 940.2H447.72M431.07 1056H447.72M466.48 941.6H483.12M466.48 1136H483.12M501.68 999H518.33M501.68 1115.6H518.33M537.27 977.4H553.93M537.27 1104H553.93M572.67 1022.6H589.33M572.67 1240.6H589.33M641.67 999H658.33M641.67 1099H658.33M677.27 1004.6H693.93M677.27 1183.6H693.93M712.67 983H729.33M712.67 1124H729.33M748.67 964.6H765.33M748.67 1102.4H765.33M783.67 1024.6H800.33M783.67 1278.6H800.33" stroke="#000" stroke-width="2.35" fill="none"/>
<g stroke="#000" stroke-width="2.45" fill="none"><rect x="143.97" y="922" width="30.85" height="60.4" fill="#ffffff"/><path d="M143.97 956.8H174.83"/><rect x="213.17" y="1015.5" width="30.85" height="35.9" fill="#92bffa"/><path d="M213.17 1039H244.03"/><rect x="248.57" y="1020.1" width="30.85" height="81.9" fill="#00f800"/><path d="M248.57 1050.6H279.43"/><rect x="283.97" y="987.5" width="30.85" height="97.9" fill="#ffff00"/><path d="M283.97 1047.6H314.82"/><rect x="319.38" y="990.5" width="30.85" height="81.3" fill="#ff8000"/><path d="M319.38 1022H350.23"/><rect x="354.57" y="1029.9" width="30.85" height="59.3" fill="#fd0000"/><path d="M354.57 1060H385.43"/><rect x="423.97" y="1003.1" width="30.85" height="51.3" fill="#92bffa"/><path d="M423.97 1032H454.82"/><rect x="459.38" y="1017.9" width="30.85" height="58.5" fill="#00f800"/><path d="M459.38 1034.4H490.23"/><rect x="494.57" y="1025.5" width="30.85" height="55.9" fill="#ffff00"/><path d="M494.57 1048.6H525.42"/><rect x="530.18" y="999.5" width="30.85" height="30.5" fill="#ff8000"/><path d="M530.18 1009.6H561.02"/><rect x="565.58" y="1072.5" width="30.85" height="106.9" fill="#fd0000"/><path d="M565.58 1103.6H596.42"/><rect x="634.58" y="1017.5" width="30.85" height="49.7" fill="#92bffa"/><path d="M634.58 1042.6H665.42"/><rect x="670.18" y="1035.1" width="30.85" height="54.9" fill="#00f800"/><path d="M670.18 1059.6H701.02"/><rect x="705.58" y="1027.5" width="30.85" height="60.9" fill="#ffff00"/><path d="M705.58 1050.5H736.42"/><rect x="741.58" y="1021.5" width="30.85" height="45.2" fill="#ff8000"/><path d="M741.58 1036.5H772.42"/><rect x="776.58" y="1121.5" width="30.85" height="37.9" fill="#fd0000"/><path d="M776.58 1138H807.42"/></g>
<g fill="#000"><circle cx="159.3" cy="870" r="3.4"/><circle cx="159.3" cy="878.5" r="3.4"/><circle cx="157" cy="908.7" r="3.4"/><circle cx="153" cy="913.7" r="3.4"/><circle cx="159.3" cy="913" r="3.4"/><circle cx="165.5" cy="913.7" r="3.4"/><circle cx="145" cy="917.2" r="3.4"/><circle cx="150.5" cy="917.8" r="3.4"/><circle cx="156.2" cy="918" r="3.4"/><circle cx="161.5" cy="920" r="3.4"/><circle cx="169" cy="920.5" r="3.4"/><circle cx="174.2" cy="918" r="3.4"/><circle cx="156.5" cy="928.3" r="3.4"/><circle cx="161.5" cy="928" r="3.4"/><circle cx="157" cy="935.5" r="3.4"/><circle cx="162" cy="934.5" r="3.4"/><circle cx="165.5" cy="937" r="3.4"/><circle cx="153" cy="939.5" r="3.4"/><circle cx="159" cy="942" r="3.4"/><circle cx="161.8" cy="944" r="3.4"/><circle cx="156.5" cy="946.5" r="3.4"/><circle cx="153" cy="951" r="3.4"/><circle cx="161.5" cy="951.5" r="3.4"/><circle cx="165.5" cy="956" r="3.4"/><circle cx="157" cy="957" r="3.4"/><circle cx="161.5" cy="958.5" r="3.4"/><circle cx="155" cy="965.5" r="3.4"/><circle cx="159.3" cy="965" r="3.4"/><circle cx="163.5" cy="964.7" r="3.4"/><circle cx="157" cy="973" r="3.4"/><circle cx="161.5" cy="972.2" r="3.4"/><circle cx="165.5" cy="972.5" r="3.4"/><circle cx="149" cy="979" r="3.4"/><circle cx="154" cy="981.5" r="3.4"/><circle cx="159.3" cy="980.5" r="3.4"/><circle cx="164.5" cy="979.5" r="3.4"/><circle cx="169.5" cy="978.5" r="3.4"/><circle cx="174" cy="979" r="3.4"/><circle cx="149" cy="985.5" r="3.4"/><circle cx="155" cy="984" r="3.4"/><circle cx="161.5" cy="986.5" r="3.4"/><circle cx="167" cy="984.5" r="3.4"/><circle cx="171" cy="982.5" r="3.4"/><circle cx="154" cy="1004.4" r="3.4"/><circle cx="159.4" cy="1006" r="3.4"/><circle cx="165" cy="1004.4" r="3.4"/><circle cx="159.4" cy="1015" r="3.4"/><circle cx="159.4" cy="1032.4" r="3.4"/><circle cx="159.4" cy="1054.6" r="3.4"/><circle cx="159.4" cy="1075.6" r="3.4"/><circle cx="228.6" cy="999" r="3.4"/><circle cx="219" cy="1008" r="3.4"/><circle cx="238" cy="1011" r="3.4"/><circle cx="219" cy="1015" r="3.4"/><circle cx="228.6" cy="1020" r="3.4"/><circle cx="228.6" cy="1035" r="3.4"/><circle cx="219" cy="1040" r="3.4"/><circle cx="228.6" cy="1044" r="3.4"/><circle cx="238" cy="1043" r="3.4"/><circle cx="224" cy="1052" r="3.4"/><circle cx="233.4" cy="1052.6" r="3.4"/><circle cx="224" cy="1064.4" r="3.4"/><circle cx="233.4" cy="1066" r="3.4"/><circle cx="228.6" cy="1081.6" r="3.4"/><circle cx="264" cy="993.4" r="3.4"/><circle cx="264" cy="1007" r="3.4"/><circle cx="273.6" cy="1016" r="3.4"/><circle cx="254.4" cy="1020" r="3.4"/><circle cx="264" cy="1019.6" r="3.4"/><circle cx="254.4" cy="1048" r="3.4"/><circle cx="264" cy="1049" r="3.4"/><circle cx="273.6" cy="1050.6" r="3.4"/><circle cx="264" cy="1054.4" r="3.4"/><circle cx="264" cy="1075.6" r="3.4"/><circle cx="264" cy="1094" r="3.4"/><circle cx="264" cy="1104" r="3.4"/><circle cx="264" cy="1117.6" r="3.4"/><circle cx="273.6" cy="1120" r="3.4"/><circle cx="254.4" cy="1123" r="3.4"/><circle cx="299.4" cy="948" r="3.4"/><circle cx="299.4" cy="966" r="3.4"/><circle cx="299.4" cy="979" r="3.4"/><circle cx="299.4" cy="986.6" r="3.4"/><circle cx="294.6" cy="998.4" r="3.4"/><circle cx="304" cy="996.6" r="3.4"/><circle cx="299.4" cy="1010" r="3.4"/><circle cx="294.6" cy="1048" r="3.4"/><circle cx="304" cy="1048" r="3.4"/><circle cx="299.4" cy="1061" r="3.4"/><circle cx="299.4" cy="1071" r="3.4"/><circle cx="299.4" cy="1086" r="3.4"/><circle cx="294.6" cy="1102" r="3.4"/><circle cx="304" cy="1106" r="3.4"/><circle cx="299.4" cy="1127" r="3.4"/><circle cx="334.6" cy="942.6" r="3.4"/><circle cx="334.6" cy="951" r="3.4"/><circle cx="334.6" cy="979" r="3.4"/><circle cx="334.6" cy="984" r="3.4"/><circle cx="334.6" cy="994" r="3.4"/><circle cx="325" cy="1012.6" r="3.4"/><circle cx="334.6" cy="1015.6" r="3.4"/><circle cx="344" cy="1014" r="3.4"/><circle cx="334.6" cy="1022.4" r="3.4"/><circle cx="334.6" cy="1043.6" r="3.4"/><circle cx="330" cy="1049.6" r="3.4"/><circle cx="339.4" cy="1052" r="3.4"/><circle cx="330" cy="1071" r="3.4"/><circle cx="339.4" cy="1074" r="3.4"/><circle cx="334.6" cy="1097" r="3.4"/><circle cx="334.6" cy="1108.4" r="3.4"/><circle cx="334.6" cy="1141" r="3.4"/><circle cx="370" cy="987" r="3.4"/><circle cx="370" cy="997.6" r="3.4"/><circle cx="370" cy="1015.4" r="3.4"/><circle cx="370" cy="1024.4" r="3.4"/><circle cx="360.6" cy="1043" r="3.4"/><circle cx="370" cy="1042.4" r="3.4"/><circle cx="379.4" cy="1043" r="3.4"/><circle cx="365" cy="1060" r="3.4"/><circle cx="375" cy="1060.6" r="3.4"/><circle cx="365" cy="1082" r="3.4"/><circle cx="375" cy="1082" r="3.4"/><circle cx="360.6" cy="1090" r="3.4"/><circle cx="370" cy="1088" r="3.4"/><circle cx="379.4" cy="1090" r="3.4"/><circle cx="370" cy="1098" r="3.4"/><circle cx="370" cy="1204" r="3.4"/><circle cx="439.4" cy="940" r="3.4"/><circle cx="439.4" cy="948" r="3.4"/><circle cx="439.4" cy="960" r="3.4"/><circle cx="439.4" cy="1002" r="3.4"/><circle cx="432" cy="1009.4" r="3.4"/><circle cx="439.4" cy="1013.6" r="3.4"/><circle cx="439.4" cy="1027" r="3.4"/><circle cx="439.4" cy="1032" r="3.4"/><circle cx="446.6" cy="1042" r="3.4"/><circle cx="439.4" cy="1045" r="3.4"/><circle cx="425" cy="1056.6" r="3.4"/><circle cx="432" cy="1053.6" r="3.4"/><circle cx="439.4" cy="1055.6" r="3.4"/><circle cx="446.6" cy="1054.6" r="3.4"/><circle cx="453.6" cy="1057" r="3.4"/><circle cx="474.8" cy="941.6" r="3.4"/><circle cx="474.8" cy="972" r="3.4"/><circle cx="474.8" cy="1010" r="3.4"/><circle cx="474.8" cy="1017" r="3.4"/><circle cx="465" cy="1024.4" r="3.4"/><circle cx="474.8" cy="1027.4" r="3.4"/><circle cx="484.4" cy="1026.6" r="3.4"/><circle cx="474.8" cy="1035" r="3.4"/><circle cx="484.4" cy="1049.4" r="3.4"/><circle cx="474.8" cy="1053.6" r="3.4"/><circle cx="474.8" cy="1060.6" r="3.4"/><circle cx="474.8" cy="1077" r="3.4"/><circle cx="474.8" cy="1095" r="3.4"/><circle cx="474.8" cy="1112.4" r="3.4"/><circle cx="474.8" cy="1136" r="3.4"/><circle cx="510" cy="999" r="3.4"/><circle cx="510" cy="1012.6" r="3.4"/><circle cx="505" cy="1023.6" r="3.4"/><circle cx="515" cy="1022.6" r="3.4"/><circle cx="505" cy="1036.4" r="3.4"/><circle cx="515" cy="1032.6" r="3.4"/><circle cx="500.6" cy="1048.6" r="3.4"/><circle cx="510" cy="1048" r="3.4"/><circle cx="519.6" cy="1048.6" r="3.4"/><circle cx="510" cy="1054.4" r="3.4"/><circle cx="510" cy="1071.4" r="3.4"/><circle cx="510" cy="1083" r="3.4"/><circle cx="510" cy="1099" r="3.4"/><circle cx="505" cy="1116" r="3.4"/><circle cx="515" cy="1115.4" r="3.4"/><circle cx="545.6" cy="977.4" r="3.4"/><circle cx="540.6" cy="988.4" r="3.4"/><circle cx="550.4" cy="988.4" r="3.4"/><circle cx="531" cy="998" r="3.4"/><circle cx="540.6" cy="998" r="3.4"/><circle cx="550.4" cy="995.6" r="3.4"/><circle cx="560.6" cy="999.4" r="3.4"/><circle cx="545.6" cy="1004" r="3.4"/><circle cx="540.6" cy="1009.6" r="3.4"/><circle cx="550.4" cy="1010" r="3.4"/><circle cx="540.6" cy="1015" r="3.4"/><circle cx="550.4" cy="1022" r="3.4"/><circle cx="540.6" cy="1026.6" r="3.4"/><circle cx="545.6" cy="1034" r="3.4"/><circle cx="545.6" cy="1046.4" r="3.4"/><circle cx="545.6" cy="1093.6" r="3.4"/><circle cx="545.6" cy="1104" r="3.4"/><circle cx="581" cy="1022.6" r="3.4"/><circle cx="581" cy="1029.6" r="3.4"/><circle cx="581" cy="1031" r="3.4"/><circle cx="581" cy="1052" r="3.4"/><circle cx="581" cy="1067" r="3.4"/><circle cx="581" cy="1084.4" r="3.4"/><circle cx="581" cy="1093" r="3.4"/><circle cx="576" cy="1099.6" r="3.4"/><circle cx="586" cy="1099" r="3.4"/><circle cx="586" cy="1108" r="3.4"/><circle cx="576" cy="1111.6" r="3.4"/><circle cx="586" cy="1114" r="3.4"/><circle cx="581" cy="1147.4" r="3.4"/><circle cx="581" cy="1190.6" r="3.4"/><circle cx="581" cy="1202" r="3.4"/><circle cx="581" cy="1226" r="3.4"/><circle cx="581" cy="1240.6" r="3.4"/><circle cx="645" cy="998.6" r="3.4"/><circle cx="655" cy="1000" r="3.4"/><circle cx="659.6" cy="1011.6" r="3.4"/><circle cx="650" cy="1015.6" r="3.4"/><circle cx="645" cy="1022" r="3.4"/><circle cx="655" cy="1021.6" r="3.4"/><circle cx="650" cy="1035" r="3.4"/><circle cx="640" cy="1042.6" r="3.4"/><circle cx="650" cy="1045" r="3.4"/><circle cx="659.6" cy="1045" r="3.4"/><circle cx="650" cy="1050.4" r="3.4"/><circle cx="650" cy="1067" r="3.4"/><circle cx="650" cy="1074.4" r="3.4"/><circle cx="650" cy="1079.6" r="3.4"/><circle cx="650" cy="1099" r="3.4"/><circle cx="685.6" cy="1004.6" r="3.4"/><circle cx="680.6" cy="1027" r="3.4"/><circle cx="691" cy="1026" r="3.4"/><circle cx="685.6" cy="1033" r="3.4"/><circle cx="681.4" cy="1034" r="3.4"/><circle cx="690.4" cy="1034" r="3.4"/><circle cx="680.6" cy="1044" r="3.4"/><circle cx="691" cy="1039" r="3.4"/><circle cx="676" cy="1059" r="3.4"/><circle cx="685.6" cy="1060" r="3.4"/><circle cx="695" cy="1059.4" r="3.4"/><circle cx="685.6" cy="1071.4" r="3.4"/><circle cx="680.6" cy="1093.6" r="3.4"/><circle cx="691" cy="1092" r="3.4"/><circle cx="685.6" cy="1103" r="3.4"/><circle cx="685.6" cy="1183.6" r="3.4"/><circle cx="721" cy="983" r="3.4"/><circle cx="721" cy="1014.4" r="3.4"/><circle cx="716" cy="1023" r="3.4"/><circle cx="726" cy="1026" r="3.4"/><circle cx="716" cy="1038" r="3.4"/><circle cx="726" cy="1036.4" r="3.4"/><circle cx="721" cy="1043.6" r="3.4"/><circle cx="721" cy="1050" r="3.4"/><circle cx="721" cy="1075" r="3.4"/><circle cx="721" cy="1081" r="3.4"/><circle cx="716" cy="1085.6" r="3.4"/><circle cx="726" cy="1089.6" r="3.4"/><circle cx="721" cy="1114" r="3.4"/><circle cx="726" cy="1121" r="3.4"/><circle cx="716" cy="1124.6" r="3.4"/><circle cx="757" cy="964.6" r="3.4"/><circle cx="749" cy="1012" r="3.4"/><circle cx="763.6" cy="1014.4" r="3.4"/><circle cx="742" cy="1018" r="3.4"/><circle cx="749" cy="1022.4" r="3.4"/><circle cx="757" cy="1022.4" r="3.4"/><circle cx="764" cy="1021.6" r="3.4"/><circle cx="742" cy="1021.6" r="3.4"/><circle cx="749" cy="1037" r="3.4"/><circle cx="757" cy="1041" r="3.4"/><circle cx="757" cy="1048.6" r="3.4"/><circle cx="757" cy="1061.4" r="3.4"/><circle cx="749" cy="1069.4" r="3.4"/><circle cx="757" cy="1067" r="3.4"/><circle cx="764" cy="1069.4" r="3.4"/><circle cx="757" cy="1089.6" r="3.4"/><circle cx="757" cy="1102.4" r="3.4"/><circle cx="792" cy="1024.6" r="3.4"/><circle cx="787" cy="1099.4" r="3.4"/><circle cx="797" cy="1098" r="3.4"/><circle cx="792" cy="1117.4" r="3.4"/><circle cx="801.6" cy="1128.6" r="3.4"/><circle cx="782.6" cy="1132" r="3.4"/><circle cx="792" cy="1132.4" r="3.4"/><circle cx="801.6" cy="1136" r="3.4"/><circle cx="782.6" cy="1139" r="3.4"/><circle cx="792" cy="1144.4" r="3.4"/><circle cx="801.6" cy="1143.6" r="3.4"/><circle cx="792" cy="1154" r="3.4"/><circle cx="792" cy="1162" r="3.4"/><circle cx="792" cy="1173" r="3.4"/><circle cx="792" cy="1267" r="3.4"/><circle cx="792" cy="1278.6" r="3.4"/></g>
<path d="M158.4 856L158.4 833L225.4 833L225.4 856M369.4 875L369.4 852.2L793.4 852.2L793.4 874.6M436 908L436 886L581 886L581 926M474.6 916.6L474.6 894L581 894M546 926L546 903L581 903M647.4 918.6L647.4 896.6L792 896.6L792 945.6M686 927L686 904.4L792 904.4M719.6 936.6L719.6 914L792 914M757 945.6L757 922.6L792 922.6" stroke="#000" stroke-width="2.4" fill="none" stroke-linejoin="miter"/>
<g font-family="'Liberation Sans', Arial, sans-serif" font-size="22.2" text-anchor="middle" fill="#000" stroke="#000" stroke-width="0.35">
<text x="193" y="832.49">***</text>
<text x="579.6" y="848.49">**</text>
<text x="436" y="929.49">***</text>
<text x="475" y="940.49">*</text>
<text x="548" y="948.49">***</text>
<text x="726.6" y="898.49">**</text>
</g>
</g>
<g id="panelD">
<text transform="translate(998.5,780) scale(1,1.04)" text-anchor="start" font-family="'Liberation Sans', Arial, sans-serif" font-weight="bold" font-size="50">D</text>
<g stroke="#000" fill="none" stroke-linecap="butt">
<line x1="1059.6" y1="851.1" x2="1059.6" y2="1310.4" stroke-width="4.8"/>
<line x1="1040.5" y1="1308" x2="1744" y2="1308" stroke-width="4.8"/>
<line x1="1040.5" y1="853.5" x2="1059.6" y2="853.5" stroke-width="4.8"/>
<line x1="1040.5" y1="967.12" x2="1059.6" y2="967.12" stroke-width="4.8"/>
<line x1="1040.5" y1="1080.75" x2="1059.6" y2="1080.75" stroke-width="4.8"/>
<line x1="1040.5" y1="1194.38" x2="1059.6" y2="1194.38" stroke-width="4.8"/>
<line x1="1092.4" y1="1308" x2="1092.4" y2="1327" stroke-width="4.6"/>
<line x1="1229" y1="1308" x2="1229" y2="1327" stroke-width="4.6"/>
<line x1="1434.4" y1="1308" x2="1434.4" y2="1327" stroke-width="4.6"/>
<line x1="1640" y1="1308" x2="1640" y2="1327" stroke-width="4.6"/>
</g>
<text transform="translate(1036.5,866.02) scale(1,1.04)" text-anchor="end" font-family="'Liberation Sans', Arial, sans-serif" font-weight="bold" font-size="34.4">40</text>
<text transform="translate(1036.5,979.65) scale(1,1.04)" text-anchor="end" font-family="'Liberation Sans', Arial, sans-serif" font-weight="bold" font-size="34.4">30</text>
<text transform="translate(1036.5,1093.27) scale(1,1.04)" text-anchor="end" font-family="'Liberation Sans', Arial, sans-serif" font-weight="bold" font-size="34.4">20</text>
<text transform="translate(1036.5,1206.9) scale(1,1.04)" text-anchor="end" font-family="'Liberation Sans', Arial, sans-serif" font-weight="bold" font-size="34.4">10</text>
<text transform="translate(1036.5,1320.52) scale(1,1.04)" text-anchor="end" font-family="'Liberation Sans', Arial, sans-serif" font-weight="bold" font-size="34.4">0</text>
<text transform="translate(1092.4,1364.2) scale(1,1.04)" text-anchor="middle" font-family="'Liberation Sans', Arial, sans-serif" font-weight="bold" font-size="34.4">0</text>
<text transform="translate(1229,1364.2) scale(1,1.04)" text-anchor="middle" font-family="'Liberation Sans', Arial, sans-serif" font-weight="bold" font-size="34.4">4</text>
<text transform="translate(1434.4,1364.2) scale(1,1.04)" text-anchor="middle" font-family="'Liberation Sans', Arial, sans-serif" font-weight="bold" font-size="34.4">8</text>
<text transform="translate(1640,1364.2) scale(1,1.04)" text-anchor="middle" font-family="'Liberation Sans', Arial, sans-serif" font-weight="bold" font-size="34.4">12</text>
<text transform="translate(1117.7,1419) scale(1,1.04)" text-anchor="start" font-family="'Liberation Sans', Arial, sans-serif" font-weight="bold" font-size="37.33">Time (Weeks After Implantation)</text>
<text transform="translate(975.6,1080.8) rotate(-90) scale(1,1.04)" text-anchor="middle" font-family="'Liberation Sans', Arial, sans-serif" font-weight="bold" font-size="37.33">L6/S1 NIAD (degrees)</text>
<path d="M1092.4 1000.6V1228M1159.8 1032V1170M1194.4 1013V1183M1229 1039.4V1198M1263.2 1042V1144M1297.6 976V1126M1365.4 1024.5V1152M1400 981V1207.4M1434.4 977.6V1153M1469 990.5V1115M1503.4 944.4V1086.4M1570.6 1000V1092M1605.4 994.6V1159.4M1640 1006.5V1169.4M1674.4 939V1115M1709 980.4V1133.6" stroke="#000" stroke-width="2.45" fill="none"/>
<path d="M1084.28 1000.6H1100.53M1084.28 1228H1100.53M1151.67 1032H1167.92M1151.67 1170H1167.92M1186.28 1013H1202.53M1186.28 1183H1202.53M1220.88 1039.4H1237.12M1220.88 1198H1237.12M1255.08 1042H1271.33M1255.08 1144H1271.33M1289.47 976H1305.72M1289.47 1126H1305.72M1357.28 1024.5H1373.53M1357.28 1152H1373.53M1391.88 981H1408.12M1391.88 1207.4H1408.12M1426.28 977.6H1442.53M1426.28 1153H1442.53M1460.88 990.5H1477.12M1460.88 1115H1477.12M1495.28 944.4H1511.53M1495.28 1086.4H1511.53M1562.47 1000H1578.72M1562.47 1092H1578.72M1597.28 994.6H1613.53M1597.28 1159.4H1613.53M1631.88 1006.5H1648.12M1631.88 1169.4H1648.12M1666.28 939H1682.53M1666.28 1115H1682.53M1700.88 980.4H1717.12M1700.88 1133.6H1717.12" stroke="#000" stroke-width="2.35" fill="none"/>
<g stroke="#000" stroke-width="2.45" fill="none"><rect x="1077.38" y="1073.1" width="30.05" height="66.3" fill="#ffffff"/><path d="M1077.38 1110.6H1107.43"/><rect x="1144.77" y="1088.5" width="30.05" height="29.9" fill="#92bffa"/><path d="M1144.77 1110.6H1174.83"/><rect x="1179.38" y="1081.5" width="30.05" height="51.3" fill="#00f800"/><path d="M1179.38 1117H1209.43"/><rect x="1213.97" y="1059.9" width="30.05" height="88.1" fill="#ffff00"/><path d="M1213.97 1096H1244.03"/><rect x="1248.17" y="1064.9" width="30.05" height="44.5" fill="#ff8000"/><path d="M1248.17 1092H1278.23"/><rect x="1282.57" y="1053.9" width="30.05" height="48.5" fill="#fd0000"/><path d="M1282.57 1081H1312.62"/><rect x="1350.38" y="1046.1" width="30.05" height="45.7" fill="#92bffa"/><path d="M1350.38 1072.2H1380.43"/><rect x="1384.97" y="1072.5" width="30.05" height="41.5" fill="#00f800"/><path d="M1384.97 1097.6H1415.03"/><rect x="1419.38" y="1025.5" width="30.05" height="100.5" fill="#ffff00"/><path d="M1419.38 1040H1449.43"/><rect x="1453.97" y="1022.5" width="30.05" height="67.9" fill="#ff8000"/><path d="M1453.97 1041.2H1484.03"/><rect x="1488.38" y="989.5" width="30.05" height="61.3" fill="#fd0000"/><path d="M1488.38 1025.5H1518.43"/><rect x="1555.57" y="1021.3" width="30.05" height="41.5" fill="#92bffa"/><path d="M1555.57 1054H1585.62"/><rect x="1590.38" y="1038.5" width="30.05" height="52.9" fill="#00f800"/><path d="M1590.38 1076H1620.43"/><rect x="1624.97" y="1065.9" width="30.05" height="65.5" fill="#ffff00"/><path d="M1624.97 1109.6H1655.03"/><rect x="1659.38" y="1009.5" width="30.05" height="63.9" fill="#ff8000"/><path d="M1659.38 1024.2H1689.43"/><rect x="1693.97" y="993.1" width="30.05" height="57.7" fill="#fd0000"/><path d="M1693.97 1000H1724.03"/></g>
<g fill="#000"><circle cx="1089" cy="1000.6" r="3.4"/><circle cx="1096" cy="1000.6" r="3.4"/><circle cx="1092.4" cy="1012.6" r="3.4"/><circle cx="1085" cy="1043.6" r="3.4"/><circle cx="1092.4" cy="1045" r="3.4"/><circle cx="1078" cy="1049.4" r="3.4"/><circle cx="1099.6" cy="1048.6" r="3.4"/><circle cx="1106.6" cy="1048" r="3.4"/><circle cx="1092.4" cy="1052" r="3.4"/><circle cx="1092.4" cy="1058" r="3.4"/><circle cx="1092.4" cy="1065" r="3.4"/><circle cx="1099.6" cy="1067.6" r="3.4"/><circle cx="1085" cy="1070" r="3.4"/><circle cx="1092.4" cy="1072" r="3.4"/><circle cx="1099.6" cy="1073.6" r="3.4"/><circle cx="1085" cy="1081" r="3.4"/><circle cx="1092.4" cy="1079.6" r="3.4"/><circle cx="1099.6" cy="1082" r="3.4"/><circle cx="1078" cy="1088" r="3.4"/><circle cx="1085" cy="1087" r="3.4"/><circle cx="1092.4" cy="1087" r="3.4"/><circle cx="1099.6" cy="1087" r="3.4"/><circle cx="1107" cy="1088" r="3.4"/><circle cx="1085" cy="1092" r="3.4"/><circle cx="1092.4" cy="1099" r="3.4"/><circle cx="1092.4" cy="1103.6" r="3.4"/><circle cx="1085" cy="1110.6" r="3.4"/><circle cx="1092.4" cy="1110" r="3.4"/><circle cx="1099.6" cy="1110" r="3.4"/><circle cx="1092.4" cy="1121" r="3.4"/><circle cx="1099.6" cy="1119.6" r="3.4"/><circle cx="1078" cy="1123" r="3.4"/><circle cx="1085" cy="1125" r="3.4"/><circle cx="1099.6" cy="1125" r="3.4"/><circle cx="1107" cy="1122" r="3.4"/><circle cx="1092.4" cy="1128" r="3.4"/><circle cx="1085" cy="1131" r="3.4"/><circle cx="1099.6" cy="1131.6" r="3.4"/><circle cx="1092.4" cy="1136" r="3.4"/><circle cx="1078" cy="1140.6" r="3.4"/><circle cx="1085" cy="1143" r="3.4"/><circle cx="1107" cy="1142" r="3.4"/><circle cx="1092.4" cy="1148" r="3.4"/><circle cx="1085" cy="1158.6" r="3.4"/><circle cx="1092.4" cy="1156" r="3.4"/><circle cx="1092.4" cy="1162" r="3.4"/><circle cx="1092.4" cy="1168" r="3.4"/><circle cx="1092.4" cy="1187.4" r="3.4"/><circle cx="1089" cy="1199.6" r="3.4"/><circle cx="1096" cy="1200" r="3.4"/><circle cx="1089" cy="1221.6" r="3.4"/><circle cx="1096" cy="1222.4" r="3.4"/><circle cx="1092.4" cy="1228" r="3.4"/><circle cx="1159.6" cy="1032" r="3.4"/><circle cx="1155" cy="1048.6" r="3.4"/><circle cx="1164.4" cy="1047.4" r="3.4"/><circle cx="1159.6" cy="1087" r="3.4"/><circle cx="1159.6" cy="1094.6" r="3.4"/><circle cx="1146" cy="1106.6" r="3.4"/><circle cx="1155" cy="1110" r="3.4"/><circle cx="1164.4" cy="1110" r="3.4"/><circle cx="1174" cy="1110" r="3.4"/><circle cx="1155" cy="1114.6" r="3.4"/><circle cx="1174" cy="1114" r="3.4"/><circle cx="1155" cy="1118.6" r="3.4"/><circle cx="1164.4" cy="1119.6" r="3.4"/><circle cx="1159.6" cy="1148" r="3.4"/><circle cx="1159.6" cy="1158.6" r="3.4"/><circle cx="1159.6" cy="1170" r="3.4"/><circle cx="1194.4" cy="1013" r="3.4"/><circle cx="1194.4" cy="1041" r="3.4"/><circle cx="1204" cy="1077.6" r="3.4"/><circle cx="1185" cy="1082" r="3.4"/><circle cx="1194.4" cy="1080.4" r="3.4"/><circle cx="1194.4" cy="1100.4" r="3.4"/><circle cx="1194.4" cy="1111" r="3.4"/><circle cx="1194.4" cy="1117" r="3.4"/><circle cx="1194.4" cy="1123" r="3.4"/><circle cx="1185" cy="1126.6" r="3.4"/><circle cx="1204" cy="1125.6" r="3.4"/><circle cx="1189.6" cy="1136.6" r="3.4"/><circle cx="1199" cy="1134" r="3.4"/><circle cx="1194.4" cy="1177.6" r="3.4"/><circle cx="1194.4" cy="1183" r="3.4"/><circle cx="1224" cy="1039.4" r="3.4"/><circle cx="1233.6" cy="1042" r="3.4"/><circle cx="1238" cy="1054" r="3.4"/><circle cx="1229" cy="1059" r="3.4"/><circle cx="1229" cy="1084" r="3.4"/><circle cx="1229" cy="1092" r="3.4"/><circle cx="1219.4" cy="1096" r="3.4"/><circle cx="1229" cy="1097" r="3.4"/><circle cx="1229" cy="1122" r="3.4"/><circle cx="1229" cy="1131" r="3.4"/><circle cx="1229" cy="1140.6" r="3.4"/><circle cx="1229" cy="1148.6" r="3.4"/><circle cx="1229" cy="1159" r="3.4"/><circle cx="1229" cy="1170.6" r="3.4"/><circle cx="1229" cy="1198" r="3.4"/><circle cx="1263" cy="1042" r="3.4"/><circle cx="1263" cy="1052.6" r="3.4"/><circle cx="1277" cy="1060" r="3.4"/><circle cx="1258" cy="1064.4" r="3.4"/><circle cx="1268" cy="1062.4" r="3.4"/><circle cx="1263" cy="1069" r="3.4"/><circle cx="1263" cy="1077" r="3.4"/><circle cx="1263" cy="1083.6" r="3.4"/><circle cx="1249" cy="1092" r="3.4"/><circle cx="1258" cy="1092.4" r="3.4"/><circle cx="1268" cy="1092" r="3.4"/><circle cx="1277" cy="1092.6" r="3.4"/><circle cx="1253.6" cy="1110" r="3.4"/><circle cx="1263" cy="1109.4" r="3.4"/><circle cx="1272.4" cy="1111" r="3.4"/><circle cx="1263" cy="1127" r="3.4"/><circle cx="1263" cy="1144" r="3.4"/><circle cx="1297.6" cy="976" r="3.4"/><circle cx="1297.6" cy="990" r="3.4"/><circle cx="1297.6" cy="1043.4" r="3.4"/><circle cx="1293" cy="1058" r="3.4"/><circle cx="1302.6" cy="1056" r="3.4"/><circle cx="1297.6" cy="1070.6" r="3.4"/><circle cx="1288" cy="1082" r="3.4"/><circle cx="1297.6" cy="1081" r="3.4"/><circle cx="1307" cy="1083" r="3.4"/><circle cx="1293" cy="1097.6" r="3.4"/><circle cx="1302.6" cy="1096.6" r="3.4"/><circle cx="1293" cy="1108.4" r="3.4"/><circle cx="1302.6" cy="1105" r="3.4"/><circle cx="1293" cy="1127" r="3.4"/><circle cx="1302.6" cy="1123.6" r="3.4"/><circle cx="1365.4" cy="1027" r="3.4"/><circle cx="1374.6" cy="1024.4" r="3.4"/><circle cx="1365.4" cy="1034" r="3.4"/><circle cx="1365.4" cy="1044" r="3.4"/><circle cx="1365.4" cy="1053.4" r="3.4"/><circle cx="1365.4" cy="1059" r="3.4"/><circle cx="1360.6" cy="1072.6" r="3.4"/><circle cx="1370" cy="1071.6" r="3.4"/><circle cx="1356" cy="1080.6" r="3.4"/><circle cx="1374.6" cy="1084" r="3.4"/><circle cx="1365.4" cy="1086" r="3.4"/><circle cx="1356" cy="1092.6" r="3.4"/><circle cx="1365.4" cy="1093" r="3.4"/><circle cx="1374.6" cy="1092.6" r="3.4"/><circle cx="1365.4" cy="1152" r="3.4"/><circle cx="1400" cy="981" r="3.4"/><circle cx="1400" cy="1013" r="3.4"/><circle cx="1400" cy="1061" r="3.4"/><circle cx="1400" cy="1071" r="3.4"/><circle cx="1400" cy="1079.4" r="3.4"/><circle cx="1391" cy="1093" r="3.4"/><circle cx="1400" cy="1093" r="3.4"/><circle cx="1409" cy="1097.6" r="3.4"/><circle cx="1400" cy="1099.4" r="3.4"/><circle cx="1391" cy="1110.4" r="3.4"/><circle cx="1409" cy="1112.6" r="3.4"/><circle cx="1400" cy="1114" r="3.4"/><circle cx="1400" cy="1142.6" r="3.4"/><circle cx="1400" cy="1168.4" r="3.4"/><circle cx="1400" cy="1207.4" r="3.4"/><circle cx="1434.4" cy="977.6" r="3.4"/><circle cx="1434.4" cy="1013" r="3.4"/><circle cx="1425" cy="1020.6" r="3.4"/><circle cx="1434.4" cy="1024" r="3.4"/><circle cx="1425" cy="1030" r="3.4"/><circle cx="1434.4" cy="1031.6" r="3.4"/><circle cx="1443.6" cy="1030" r="3.4"/><circle cx="1434.4" cy="1040.4" r="3.4"/><circle cx="1434.4" cy="1058.6" r="3.4"/><circle cx="1434.4" cy="1065" r="3.4"/><circle cx="1434.4" cy="1074" r="3.4"/><circle cx="1434.4" cy="1126" r="3.4"/><circle cx="1429.6" cy="1131" r="3.4"/><circle cx="1439" cy="1133" r="3.4"/><circle cx="1434.4" cy="1153" r="3.4"/><circle cx="1469" cy="990.4" r="3.4"/><circle cx="1469" cy="1007.6" r="3.4"/><circle cx="1478.4" cy="1012.4" r="3.4"/><circle cx="1469" cy="1014" r="3.4"/><circle cx="1469" cy="1029" r="3.4"/><circle cx="1460" cy="1036.4" r="3.4"/><circle cx="1469" cy="1036.6" r="3.4"/><circle cx="1478.4" cy="1039" r="3.4"/><circle cx="1469" cy="1042" r="3.4"/><circle cx="1469" cy="1052.4" r="3.4"/><circle cx="1469" cy="1061.6" r="3.4"/><circle cx="1460" cy="1088.4" r="3.4"/><circle cx="1469" cy="1092" r="3.4"/><circle cx="1478.4" cy="1088.4" r="3.4"/><circle cx="1469" cy="1099.6" r="3.4"/><circle cx="1464.4" cy="1117.4" r="3.4"/><circle cx="1473.6" cy="1115" r="3.4"/><circle cx="1503.4" cy="944.4" r="3.4"/><circle cx="1503.4" cy="954" r="3.4"/><circle cx="1503.4" cy="978" r="3.4"/><circle cx="1503.4" cy="978" r="3.4"/><circle cx="1503.4" cy="986" r="3.4"/><circle cx="1503.4" cy="996" r="3.4"/><circle cx="1503.4" cy="1006.6" r="3.4"/><circle cx="1494" cy="1025.4" r="3.4"/><circle cx="1503.4" cy="1024.4" r="3.4"/><circle cx="1513" cy="1027.4" r="3.4"/><circle cx="1498.6" cy="1051.4" r="3.4"/><circle cx="1508" cy="1047.4" r="3.4"/><circle cx="1517.6" cy="1049" r="3.4"/><circle cx="1508" cy="1052" r="3.4"/><circle cx="1498.6" cy="1074" r="3.4"/><circle cx="1508" cy="1074.6" r="3.4"/><circle cx="1503.4" cy="1086.4" r="3.4"/><circle cx="1565.6" cy="999.4" r="3.4"/><circle cx="1575.6" cy="1000.4" r="3.4"/><circle cx="1570.6" cy="1019.4" r="3.4"/><circle cx="1580" cy="1018" r="3.4"/><circle cx="1570.6" cy="1028.4" r="3.4"/><circle cx="1580" cy="1049.4" r="3.4"/><circle cx="1561" cy="1052" r="3.4"/><circle cx="1570.6" cy="1054" r="3.4"/><circle cx="1561" cy="1057" r="3.4"/><circle cx="1580" cy="1055" r="3.4"/><circle cx="1570.6" cy="1063" r="3.4"/><circle cx="1580" cy="1072.6" r="3.4"/><circle cx="1570.6" cy="1077" r="3.4"/><circle cx="1570.6" cy="1092" r="3.4"/><circle cx="1605.4" cy="995" r="3.4"/><circle cx="1605.4" cy="1029.4" r="3.4"/><circle cx="1614.6" cy="1035.4" r="3.4"/><circle cx="1605.4" cy="1037.4" r="3.4"/><circle cx="1605.4" cy="1057" r="3.4"/><circle cx="1596" cy="1072.6" r="3.4"/><circle cx="1605.4" cy="1073.4" r="3.4"/><circle cx="1614.6" cy="1075.6" r="3.4"/><circle cx="1605.4" cy="1080.6" r="3.4"/><circle cx="1614.6" cy="1082.4" r="3.4"/><circle cx="1596" cy="1085.6" r="3.4"/><circle cx="1600.6" cy="1094" r="3.4"/><circle cx="1610" cy="1092" r="3.4"/><circle cx="1605.4" cy="1135" r="3.4"/><circle cx="1605.4" cy="1159.4" r="3.4"/><circle cx="1640" cy="1006.6" r="3.4"/><circle cx="1635" cy="1041" r="3.4"/><circle cx="1644.6" cy="1038" r="3.4"/><circle cx="1640" cy="1064.6" r="3.4"/><circle cx="1640" cy="1080" r="3.4"/><circle cx="1640" cy="1086" r="3.4"/><circle cx="1635" cy="1109.6" r="3.4"/><circle cx="1644.6" cy="1107.4" r="3.4"/><circle cx="1635" cy="1118" r="3.4"/><circle cx="1644.6" cy="1119.4" r="3.4"/><circle cx="1635" cy="1128" r="3.4"/><circle cx="1644.6" cy="1132.4" r="3.4"/><circle cx="1640" cy="1163" r="3.4"/><circle cx="1635" cy="1169.6" r="3.4"/><circle cx="1644.6" cy="1169.6" r="3.4"/><circle cx="1674.4" cy="939" r="3.4"/><circle cx="1674.4" cy="972.6" r="3.4"/><circle cx="1674.4" cy="999" r="3.4"/><circle cx="1674.4" cy="1006" r="3.4"/><circle cx="1665" cy="1015" r="3.4"/><circle cx="1674.4" cy="1015.6" r="3.4"/><circle cx="1684" cy="1013.6" r="3.4"/><circle cx="1674.4" cy="1025" r="3.4"/><circle cx="1674.4" cy="1057" r="3.4"/><circle cx="1674.4" cy="1063.6" r="3.4"/><circle cx="1665" cy="1072.4" r="3.4"/><circle cx="1684" cy="1071.6" r="3.4"/><circle cx="1674.4" cy="1075" r="3.4"/><circle cx="1674.4" cy="1093.6" r="3.4"/><circle cx="1669.6" cy="1115" r="3.4"/><circle cx="1679" cy="1115" r="3.4"/><circle cx="1700" cy="980.4" r="3.4"/><circle cx="1718" cy="980.4" r="3.4"/><circle cx="1709" cy="985" r="3.4"/><circle cx="1718" cy="991" r="3.4"/><circle cx="1700" cy="997" r="3.4"/><circle cx="1709" cy="997" r="3.4"/><circle cx="1700" cy="1001" r="3.4"/><circle cx="1718" cy="1001" r="3.4"/><circle cx="1709" cy="1018" r="3.4"/><circle cx="1709" cy="1026" r="3.4"/><circle cx="1709" cy="1043.6" r="3.4"/><circle cx="1718" cy="1054" r="3.4"/><circle cx="1709" cy="1058" r="3.4"/><circle cx="1709" cy="1080.6" r="3.4"/><circle cx="1709" cy="1133.6" r="3.4"/></g>
<path d="M1301.8 831L1301.8 808.4L1710 808.4L1710 831M1264.2 861.6L1264.2 839.2L1672.6 839.2L1672.6 861.6M1161 894.4L1161 872.3L1569.2 872.3L1569.2 894.4M1365.4 927.4L1365.4 905.6L1502.6 905.6L1502.6 927.4M1400 905.6L1400 927.4M1433.6 905.6L1433.6 927.4M1469 905.6L1469 927.4M1570 926.2L1570 904.3L1708 904.3L1708 926.2M1605 904.3L1605 926.2M1638.4 904.3L1638.4 926.2M1674 904.3L1674 926.2" stroke="#000" stroke-width="2.4" fill="none" stroke-linejoin="miter"/>
<g font-family="'Liberation Sans', Arial, sans-serif" font-size="22.2" text-anchor="middle" fill="#000" stroke="#000" stroke-width="0.35">
<text x="1500.6" y="813.49">**</text>
<text x="1467.6" y="845.49">**</text>
<text x="1368" y="875.49">***</text>
<text x="1431.4" y="905.49">**</text>
<text x="1640.6" y="906.49">***</text>
</g>
</g>
</svg></body></html>
